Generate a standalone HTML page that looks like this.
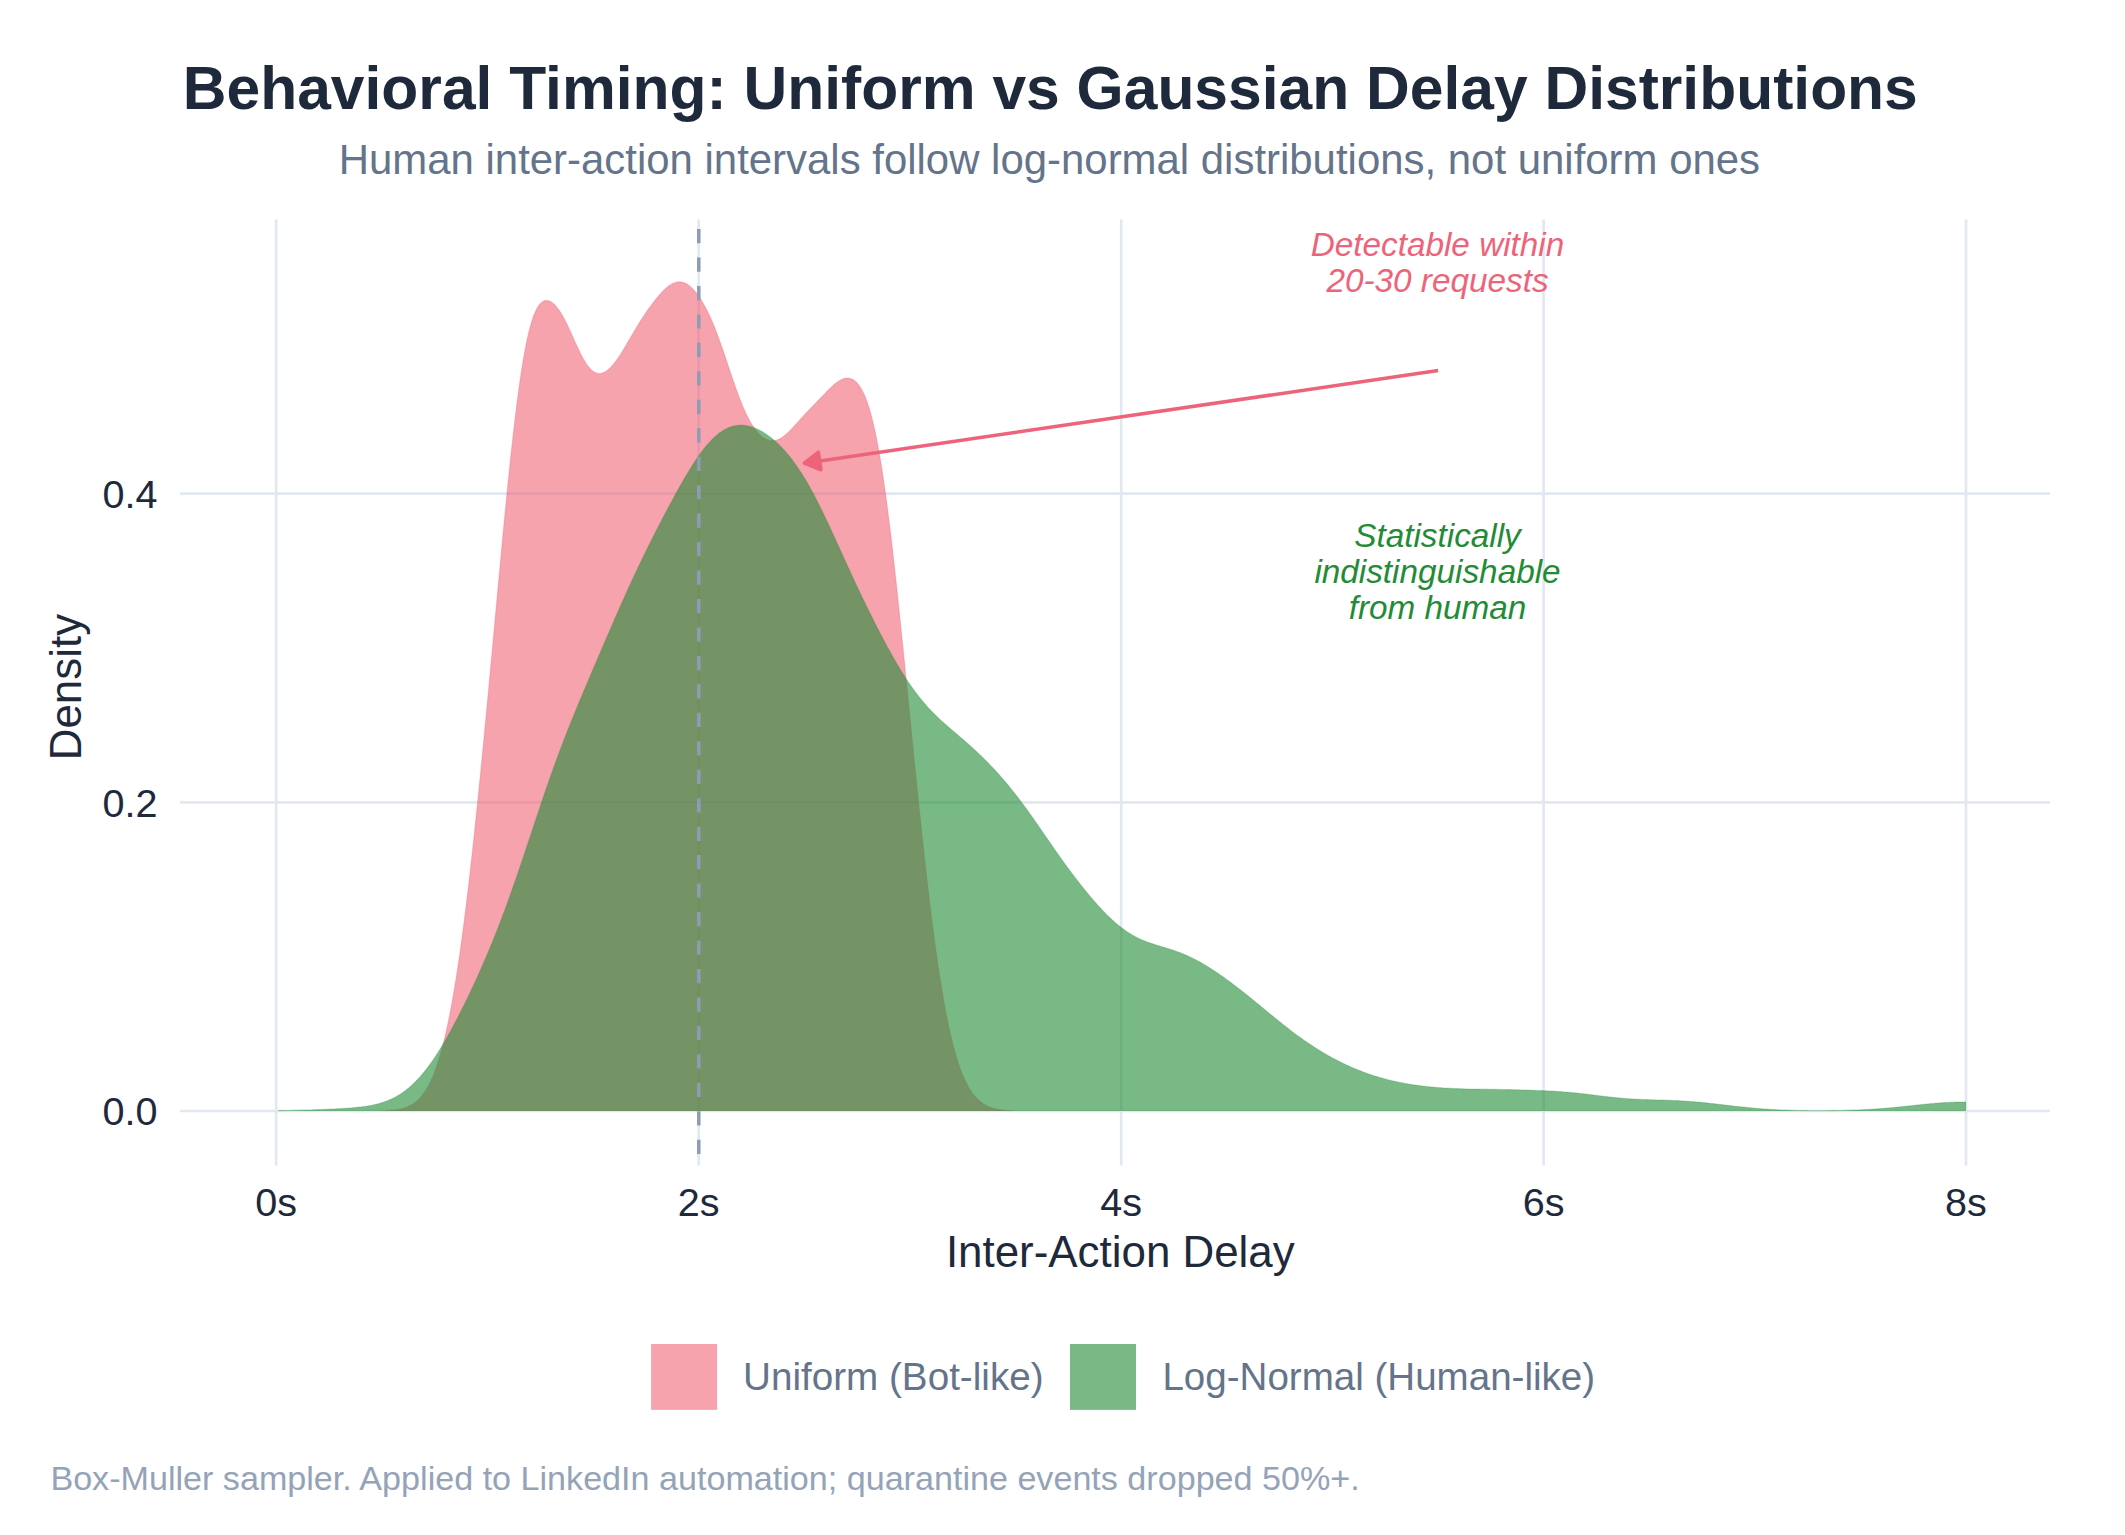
<!DOCTYPE html>
<html lang="en"><head><meta charset="utf-8"><title>Behavioral Timing: Uniform vs Gaussian Delay Distributions</title>
<style>
html,body{margin:0;padding:0;background:#fff;}
body{width:2125px;height:1535px;overflow:hidden;font-family:"Liberation Sans",sans-serif;}
svg{display:block;}
text{font-family:"Liberation Sans",sans-serif;}
</style></head><body>
<svg width="2125" height="1535" viewBox="0 0 2125 1535">
<rect width="2125" height="1535" fill="#ffffff"/>
<text x="1050.3" y="109.3" text-anchor="middle" font-size="60.56" font-weight="bold" fill="#1e293b">Behavioral Timing: Uniform vs Gaussian Delay Distributions</text>
<text x="1049.4" y="173.6" text-anchor="middle" font-size="41.93" fill="#64748b">Human inter-action intervals follow log-normal distributions, not uniform ones</text>
<g stroke="#e2e8f0" stroke-width="2.67" fill="none"><line x1="276.2" y1="219.6" x2="276.2" y2="1165.6"/><line x1="698.7" y1="219.6" x2="698.7" y2="1165.6"/><line x1="1121.2" y1="219.6" x2="1121.2" y2="1165.6"/><line x1="1543.6" y1="219.6" x2="1543.6" y2="1165.6"/><line x1="1966.0" y1="219.6" x2="1966.0" y2="1165.6"/><line x1="180" y1="493.6" x2="2050" y2="493.6"/><line x1="180" y1="802.3" x2="2050" y2="802.3"/><line x1="180" y1="1111.0" x2="2050" y2="1111.0"/></g>
<path d="M330.0 1111.0L330.0 1111.0L331.0 1111.0L332.0 1111.0L333.0 1111.0L334.0 1111.0L335.0 1111.0L336.0 1111.0L337.0 1111.0L338.0 1111.0L339.0 1111.0L340.0 1111.0L341.0 1111.0L342.0 1111.0L343.0 1111.0L344.0 1111.0L345.0 1111.0L346.0 1111.0L347.0 1111.0L348.0 1111.0L349.0 1111.0L350.0 1111.0L351.0 1111.0L352.0 1111.0L353.0 1111.0L354.0 1111.0L355.0 1111.0L356.0 1111.0L357.0 1111.0L358.0 1111.0L359.0 1111.0L360.0 1111.0L361.0 1111.0L362.0 1111.0L363.0 1111.0L364.0 1111.0L365.0 1111.0L366.0 1111.0L367.0 1111.0L368.0 1111.0L369.0 1111.0L370.0 1111.0L371.0 1111.0L372.0 1111.0L373.0 1110.9L374.0 1110.9L375.0 1110.9L376.0 1110.9L377.0 1110.9L378.0 1110.9L379.0 1110.9L380.0 1110.8L381.0 1110.8L382.0 1110.8L383.0 1110.8L384.0 1110.7L385.0 1110.7L386.0 1110.7L387.0 1110.6L388.0 1110.5L389.0 1110.5L390.0 1110.4L391.0 1110.3L392.0 1110.2L393.0 1110.1L394.0 1110.0L395.0 1109.9L396.0 1109.8L397.0 1109.6L398.0 1109.5L399.0 1109.3L400.0 1109.1L401.0 1108.9L402.0 1108.6L403.0 1108.4L404.0 1108.1L405.0 1107.7L406.0 1107.4L407.0 1107.0L408.0 1106.6L409.0 1106.1L410.0 1105.6L411.0 1105.1L412.0 1104.5L413.0 1103.9L414.0 1103.2L415.0 1102.5L416.0 1101.7L417.0 1100.8L418.0 1099.9L419.0 1098.9L420.0 1097.8L421.0 1096.7L422.0 1095.5L423.0 1094.2L424.0 1092.8L425.0 1091.4L426.0 1089.8L427.0 1088.1L428.0 1086.4L429.0 1084.5L430.0 1082.5L431.0 1080.4L432.0 1078.2L433.0 1075.9L434.0 1073.4L435.0 1070.8L436.0 1068.0L437.0 1065.2L438.0 1062.1L439.0 1059.0L440.0 1055.6L441.0 1052.1L442.0 1048.5L443.0 1044.7L444.0 1040.7L445.0 1036.5L446.0 1032.2L447.0 1027.7L448.0 1023.0L449.0 1018.1L450.0 1013.1L451.0 1007.8L452.0 1002.4L453.0 996.8L454.0 990.9L455.0 984.9L456.0 978.7L457.0 972.3L458.0 965.8L459.0 959.0L460.0 952.0L461.0 944.9L462.0 937.6L463.0 930.1L464.0 922.4L465.0 914.5L466.0 906.5L467.0 898.3L468.0 889.9L469.0 881.4L470.0 872.7L471.0 863.9L472.0 854.9L473.0 845.8L474.0 836.5L475.0 827.1L476.0 817.6L477.0 808.0L478.0 798.2L479.0 788.3L480.0 778.4L481.0 768.3L482.0 758.1L483.0 747.9L484.0 737.6L485.0 727.1L486.0 716.7L487.0 706.1L488.0 695.5L489.0 684.8L490.0 674.1L491.0 663.3L492.0 652.5L493.0 641.7L494.0 630.9L495.0 620.0L496.0 609.2L497.0 598.3L498.0 587.5L499.0 576.7L500.0 566.0L501.0 555.3L502.0 544.6L503.0 534.1L504.0 523.6L505.0 513.2L506.0 503.0L507.0 492.9L508.0 482.9L509.0 473.1L510.0 463.5L511.0 454.1L512.0 444.9L513.0 436.0L514.0 427.2L515.0 418.7L516.0 410.5L517.0 402.6L518.0 394.9L519.0 387.5L520.0 380.5L521.0 373.7L522.0 367.3L523.0 361.2L524.0 355.4L525.0 349.9L526.0 344.8L527.0 339.9L528.0 335.4L529.0 331.2L530.0 327.4L531.0 323.8L532.0 320.5L533.0 317.5L534.0 314.8L535.0 312.4L536.0 310.2L537.0 308.3L538.0 306.6L539.0 305.2L540.0 303.9L541.0 302.9L542.0 302.0L543.0 301.4L544.0 300.9L545.0 300.6L546.0 300.4L547.0 300.4L548.0 300.6L549.0 300.8L550.0 301.2L551.0 301.8L552.0 302.4L553.0 303.2L554.0 304.1L555.0 305.1L556.0 306.2L557.0 307.4L558.0 308.7L559.0 310.1L560.0 311.6L561.0 313.1L562.0 314.8L563.0 316.6L564.0 318.4L565.0 320.3L566.0 322.2L567.0 324.3L568.0 326.3L569.0 328.5L570.0 330.6L571.0 332.8L572.0 335.0L573.0 337.2L574.0 339.5L575.0 341.7L576.0 343.9L577.0 346.1L578.0 348.2L579.0 350.3L580.0 352.4L581.0 354.4L582.0 356.3L583.0 358.2L584.0 359.9L585.0 361.6L586.0 363.2L587.0 364.7L588.0 366.0L589.0 367.3L590.0 368.4L591.0 369.5L592.0 370.4L593.0 371.2L594.0 371.8L595.0 372.4L596.0 372.8L597.0 373.2L598.0 373.4L599.0 373.5L600.0 373.4L601.0 373.3L602.0 373.1L603.0 372.8L604.0 372.3L605.0 371.8L606.0 371.2L607.0 370.5L608.0 369.7L609.0 368.8L610.0 367.9L611.0 366.9L612.0 365.8L613.0 364.6L614.0 363.4L615.0 362.1L616.0 360.8L617.0 359.4L618.0 358.0L619.0 356.5L620.0 355.0L621.0 353.4L622.0 351.8L623.0 350.2L624.0 348.6L625.0 346.9L626.0 345.2L627.0 343.5L628.0 341.8L629.0 340.1L630.0 338.4L631.0 336.7L632.0 335.0L633.0 333.3L634.0 331.6L635.0 329.9L636.0 328.2L637.0 326.5L638.0 324.9L639.0 323.3L640.0 321.7L641.0 320.1L642.0 318.5L643.0 317.0L644.0 315.5L645.0 314.0L646.0 312.5L647.0 311.1L648.0 309.6L649.0 308.2L650.0 306.9L651.0 305.5L652.0 304.2L653.0 302.8L654.0 301.5L655.0 300.3L656.0 299.0L657.0 297.8L658.0 296.6L659.0 295.4L660.0 294.3L661.0 293.2L662.0 292.1L663.0 291.1L664.0 290.1L665.0 289.1L666.0 288.2L667.0 287.3L668.0 286.5L669.0 285.7L670.0 285.0L671.0 284.4L672.0 283.8L673.0 283.3L674.0 282.9L675.0 282.5L676.0 282.2L677.0 282.0L678.0 281.9L679.0 281.8L680.0 281.8L681.0 281.9L682.0 282.1L683.0 282.3L684.0 282.7L685.0 283.1L686.0 283.6L687.0 284.1L688.0 284.8L689.0 285.5L690.0 286.3L691.0 287.2L692.0 288.1L693.0 289.1L694.0 290.2L695.0 291.3L696.0 292.5L697.0 293.8L698.0 295.2L699.0 296.6L700.0 298.1L701.0 299.6L702.0 301.2L703.0 302.9L704.0 304.7L705.0 306.5L706.0 308.4L707.0 310.3L708.0 312.3L709.0 314.4L710.0 316.6L711.0 318.8L712.0 321.1L713.0 323.4L714.0 325.8L715.0 328.3L716.0 330.9L717.0 333.5L718.0 336.1L719.0 338.9L720.0 341.6L721.0 344.4L722.0 347.3L723.0 350.2L724.0 353.1L725.0 356.0L726.0 359.0L727.0 362.0L728.0 365.0L729.0 368.0L730.0 371.0L731.0 374.0L732.0 376.9L733.0 379.9L734.0 382.8L735.0 385.6L736.0 388.5L737.0 391.3L738.0 394.0L739.0 396.7L740.0 399.3L741.0 401.8L742.0 404.3L743.0 406.7L744.0 409.0L745.0 411.2L746.0 413.4L747.0 415.5L748.0 417.4L749.0 419.4L750.0 421.2L751.0 422.9L752.0 424.6L753.0 426.1L754.0 427.6L755.0 429.0L756.0 430.3L757.0 431.5L758.0 432.7L759.0 433.8L760.0 434.8L761.0 435.7L762.0 436.5L763.0 437.3L764.0 437.9L765.0 438.5L766.0 439.1L767.0 439.5L768.0 439.9L769.0 440.2L770.0 440.4L771.0 440.5L772.0 440.6L773.0 440.6L774.0 440.5L775.0 440.4L776.0 440.1L777.0 439.9L778.0 439.5L779.0 439.1L780.0 438.6L781.0 438.0L782.0 437.4L783.0 436.7L784.0 436.0L785.0 435.2L786.0 434.3L787.0 433.4L788.0 432.5L789.0 431.6L790.0 430.6L791.0 429.5L792.0 428.5L793.0 427.4L794.0 426.3L795.0 425.2L796.0 424.1L797.0 423.0L798.0 421.9L799.0 420.8L800.0 419.7L801.0 418.6L802.0 417.5L803.0 416.4L804.0 415.3L805.0 414.2L806.0 413.1L807.0 412.1L808.0 411.0L809.0 409.9L810.0 408.9L811.0 407.9L812.0 406.8L813.0 405.8L814.0 404.8L815.0 403.7L816.0 402.7L817.0 401.7L818.0 400.6L819.0 399.6L820.0 398.6L821.0 397.5L822.0 396.5L823.0 395.4L824.0 394.4L825.0 393.4L826.0 392.3L827.0 391.3L828.0 390.3L829.0 389.3L830.0 388.3L831.0 387.4L832.0 386.4L833.0 385.5L834.0 384.6L835.0 383.8L836.0 383.0L837.0 382.2L838.0 381.5L839.0 380.9L840.0 380.3L841.0 379.8L842.0 379.3L843.0 378.9L844.0 378.6L845.0 378.3L846.0 378.2L847.0 378.1L848.0 378.1L849.0 378.2L850.0 378.4L851.0 378.7L852.0 379.1L853.0 379.6L854.0 380.2L855.0 380.9L856.0 381.8L857.0 382.8L858.0 383.9L859.0 385.2L860.0 386.7L861.0 388.2L862.0 390.0L863.0 391.9L864.0 394.0L865.0 396.3L866.0 398.8L867.0 401.5L868.0 404.4L869.0 407.5L870.0 410.8L871.0 414.4L872.0 418.2L873.0 422.2L874.0 426.5L875.0 431.0L876.0 435.7L877.0 440.8L878.0 446.0L879.0 451.6L880.0 457.3L881.0 463.4L882.0 469.6L883.0 476.2L884.0 482.9L885.0 489.9L886.0 497.2L887.0 504.6L888.0 512.3L889.0 520.2L890.0 528.3L891.0 536.6L892.0 545.0L893.0 553.7L894.0 562.5L895.0 571.5L896.0 580.6L897.0 589.8L898.0 599.2L899.0 608.7L900.0 618.2L901.0 627.9L902.0 637.7L903.0 647.5L904.0 657.4L905.0 667.3L906.0 677.3L907.0 687.3L908.0 697.3L909.0 707.3L910.0 717.4L911.0 727.4L912.0 737.4L913.0 747.4L914.0 757.3L915.0 767.2L916.0 777.1L917.0 786.9L918.0 796.6L919.0 806.2L920.0 815.8L921.0 825.2L922.0 834.6L923.0 843.8L924.0 852.9L925.0 861.9L926.0 870.8L927.0 879.5L928.0 888.1L929.0 896.6L930.0 904.9L931.0 913.0L932.0 920.9L933.0 928.7L934.0 936.3L935.0 943.7L936.0 951.0L937.0 958.0L938.0 964.9L939.0 971.5L940.0 978.0L941.0 984.3L942.0 990.4L943.0 996.2L944.0 1001.9L945.0 1007.4L946.0 1012.7L947.0 1017.8L948.0 1022.7L949.0 1027.5L950.0 1032.0L951.0 1036.4L952.0 1040.5L953.0 1044.5L954.0 1048.4L955.0 1052.0L956.0 1055.5L957.0 1058.8L958.0 1062.0L959.0 1065.0L960.0 1067.9L961.0 1070.6L962.0 1073.2L963.0 1075.7L964.0 1078.0L965.0 1080.2L966.0 1082.3L967.0 1084.3L968.0 1086.1L969.0 1087.9L970.0 1089.5L971.0 1091.1L972.0 1092.5L973.0 1093.9L974.0 1095.2L975.0 1096.4L976.0 1097.5L977.0 1098.6L978.0 1099.5L979.0 1100.5L980.0 1101.3L981.0 1102.1L982.0 1102.9L983.0 1103.5L984.0 1104.2L985.0 1104.8L986.0 1105.3L987.0 1105.8L988.0 1106.3L989.0 1106.7L990.0 1107.1L991.0 1107.5L992.0 1107.8L993.0 1108.1L994.0 1108.4L995.0 1108.7L996.0 1108.9L997.0 1109.1L998.0 1109.3L999.0 1109.5L1000.0 1109.6L1001.0 1109.8L1002.0 1109.9L1003.0 1110.0L1004.0 1110.1L1005.0 1110.2L1006.0 1110.3L1007.0 1110.4L1008.0 1110.5L1009.0 1110.5L1010.0 1110.6L1011.0 1110.6L1012.0 1110.7L1013.0 1110.7L1014.0 1110.8L1015.0 1110.8L1016.0 1110.8L1017.0 1110.8L1018.0 1110.9L1019.0 1110.9L1020.0 1110.9L1021.0 1110.9L1022.0 1110.9L1023.0 1110.9L1024.0 1110.9L1025.0 1110.9L1026.0 1111.0L1027.0 1111.0L1028.0 1111.0L1029.0 1111.0L1030.0 1111.0L1031.0 1111.0L1032.0 1111.0L1033.0 1111.0L1034.0 1111.0L1035.0 1111.0L1036.0 1111.0L1037.0 1111.0L1038.0 1111.0L1039.0 1111.0L1040.0 1111.0L1041.0 1111.0L1042.0 1111.0L1043.0 1111.0L1044.0 1111.0L1045.0 1111.0L1046.0 1111.0L1047.0 1111.0L1048.0 1111.0L1049.0 1111.0L1050.0 1111.0L1051.0 1111.0L1052.0 1111.0L1053.0 1111.0L1054.0 1111.0L1055.0 1111.0L1056.0 1111.0L1057.0 1111.0L1058.0 1111.0L1059.0 1111.0L1060.0 1111.0L1061.0 1111.0L1062.0 1111.0L1063.0 1111.0L1064.0 1111.0L1065.0 1111.0L1066.0 1111.0L1067.0 1111.0L1068.0 1111.0L1069.0 1111.0L1070.0 1111.0L1070.0 1111.0 Z" fill="#ee475e" fill-opacity="0.5"/><path d="M385.0 1110.7L386.0 1110.7L387.0 1110.6L388.0 1110.5L389.0 1110.5L390.0 1110.4L391.0 1110.3L392.0 1110.2L393.0 1110.1L394.0 1110.0L395.0 1109.9L396.0 1109.8L397.0 1109.6L398.0 1109.5L399.0 1109.3L400.0 1109.1L401.0 1108.9L402.0 1108.6L403.0 1108.4L404.0 1108.1L405.0 1107.7L406.0 1107.4L407.0 1107.0L408.0 1106.6L409.0 1106.1L410.0 1105.6L411.0 1105.1L412.0 1104.5L413.0 1103.9L414.0 1103.2L415.0 1102.5L416.0 1101.7L417.0 1100.8L418.0 1099.9L419.0 1098.9L420.0 1097.8L421.0 1096.7L422.0 1095.5L423.0 1094.2L424.0 1092.8L425.0 1091.4L426.0 1089.8L427.0 1088.1L428.0 1086.4L429.0 1084.5L430.0 1082.5L431.0 1080.4L432.0 1078.2L433.0 1075.9L434.0 1073.4L435.0 1070.8L436.0 1068.0L437.0 1065.2L438.0 1062.1L439.0 1059.0L440.0 1055.6L441.0 1052.1L442.0 1048.5L443.0 1044.7L444.0 1040.7L445.0 1036.5L446.0 1032.2L447.0 1027.7L448.0 1023.0L449.0 1018.1L450.0 1013.1L451.0 1007.8L452.0 1002.4L453.0 996.8L454.0 990.9L455.0 984.9L456.0 978.7L457.0 972.3L458.0 965.8L459.0 959.0L460.0 952.0L461.0 944.9L462.0 937.6L463.0 930.1L464.0 922.4L465.0 914.5L466.0 906.5L467.0 898.3L468.0 889.9L469.0 881.4L470.0 872.7L471.0 863.9L472.0 854.9L473.0 845.8L474.0 836.5L475.0 827.1L476.0 817.6L477.0 808.0L478.0 798.2L479.0 788.3L480.0 778.4L481.0 768.3L482.0 758.1L483.0 747.9L484.0 737.6L485.0 727.1L486.0 716.7L487.0 706.1L488.0 695.5L489.0 684.8L490.0 674.1L491.0 663.3L492.0 652.5L493.0 641.7L494.0 630.9L495.0 620.0L496.0 609.2L497.0 598.3L498.0 587.5L499.0 576.7L500.0 566.0L501.0 555.3L502.0 544.6L503.0 534.1L504.0 523.6L505.0 513.2L506.0 503.0L507.0 492.9L508.0 482.9L509.0 473.1L510.0 463.5L511.0 454.1L512.0 444.9L513.0 436.0L514.0 427.2L515.0 418.7L516.0 410.5L517.0 402.6L518.0 394.9L519.0 387.5L520.0 380.5L521.0 373.7L522.0 367.3L523.0 361.2L524.0 355.4L525.0 349.9L526.0 344.8L527.0 339.9L528.0 335.4L529.0 331.2L530.0 327.4L531.0 323.8L532.0 320.5L533.0 317.5L534.0 314.8L535.0 312.4L536.0 310.2L537.0 308.3L538.0 306.6L539.0 305.2L540.0 303.9L541.0 302.9L542.0 302.0L543.0 301.4L544.0 300.9L545.0 300.6L546.0 300.4L547.0 300.4L548.0 300.6L549.0 300.8L550.0 301.2L551.0 301.8L552.0 302.4L553.0 303.2L554.0 304.1L555.0 305.1L556.0 306.2L557.0 307.4L558.0 308.7L559.0 310.1L560.0 311.6L561.0 313.1L562.0 314.8L563.0 316.6L564.0 318.4L565.0 320.3L566.0 322.2L567.0 324.3L568.0 326.3L569.0 328.5L570.0 330.6L571.0 332.8L572.0 335.0L573.0 337.2L574.0 339.5L575.0 341.7L576.0 343.9L577.0 346.1L578.0 348.2L579.0 350.3L580.0 352.4L581.0 354.4L582.0 356.3L583.0 358.2L584.0 359.9L585.0 361.6L586.0 363.2L587.0 364.7L588.0 366.0L589.0 367.3L590.0 368.4L591.0 369.5L592.0 370.4L593.0 371.2L594.0 371.8L595.0 372.4L596.0 372.8L597.0 373.2L598.0 373.4L599.0 373.5L600.0 373.4L601.0 373.3L602.0 373.1L603.0 372.8L604.0 372.3L605.0 371.8L606.0 371.2L607.0 370.5L608.0 369.7L609.0 368.8L610.0 367.9L611.0 366.9L612.0 365.8L613.0 364.6L614.0 363.4L615.0 362.1L616.0 360.8L617.0 359.4L618.0 358.0L619.0 356.5L620.0 355.0L621.0 353.4L622.0 351.8L623.0 350.2L624.0 348.6L625.0 346.9L626.0 345.2L627.0 343.5L628.0 341.8L629.0 340.1L630.0 338.4L631.0 336.7L632.0 335.0L633.0 333.3L634.0 331.6L635.0 329.9L636.0 328.2L637.0 326.5L638.0 324.9L639.0 323.3L640.0 321.7L641.0 320.1L642.0 318.5L643.0 317.0L644.0 315.5L645.0 314.0L646.0 312.5L647.0 311.1L648.0 309.6L649.0 308.2L650.0 306.9L651.0 305.5L652.0 304.2L653.0 302.8L654.0 301.5L655.0 300.3L656.0 299.0L657.0 297.8L658.0 296.6L659.0 295.4L660.0 294.3L661.0 293.2L662.0 292.1L663.0 291.1L664.0 290.1L665.0 289.1L666.0 288.2L667.0 287.3L668.0 286.5L669.0 285.7L670.0 285.0L671.0 284.4L672.0 283.8L673.0 283.3L674.0 282.9L675.0 282.5L676.0 282.2L677.0 282.0L678.0 281.9L679.0 281.8L680.0 281.8L681.0 281.9L682.0 282.1L683.0 282.3L684.0 282.7L685.0 283.1L686.0 283.6L687.0 284.1L688.0 284.8L689.0 285.5L690.0 286.3L691.0 287.2L692.0 288.1L693.0 289.1L694.0 290.2L695.0 291.3L696.0 292.5L697.0 293.8L698.0 295.2L699.0 296.6L700.0 298.1L701.0 299.6L702.0 301.2L703.0 302.9L704.0 304.7L705.0 306.5L706.0 308.4L707.0 310.3L708.0 312.3L709.0 314.4L710.0 316.6L711.0 318.8L712.0 321.1L713.0 323.4L714.0 325.8L715.0 328.3L716.0 330.9L717.0 333.5L718.0 336.1L719.0 338.9L720.0 341.6L721.0 344.4L722.0 347.3L723.0 350.2L724.0 353.1L725.0 356.0L726.0 359.0L727.0 362.0L728.0 365.0L729.0 368.0L730.0 371.0L731.0 374.0L732.0 376.9L733.0 379.9L734.0 382.8L735.0 385.6L736.0 388.5L737.0 391.3L738.0 394.0L739.0 396.7L740.0 399.3L741.0 401.8L742.0 404.3L743.0 406.7L744.0 409.0L745.0 411.2L746.0 413.4L747.0 415.5L748.0 417.4L749.0 419.4L750.0 421.2L751.0 422.9L752.0 424.6L753.0 426.1L754.0 427.6L755.0 429.0L756.0 430.3L757.0 431.5L758.0 432.7L759.0 433.8L760.0 434.8L761.0 435.7L762.0 436.5L763.0 437.3L764.0 437.9L765.0 438.5L766.0 439.1L767.0 439.5L768.0 439.9L769.0 440.2L770.0 440.4L771.0 440.5L772.0 440.6L773.0 440.6L774.0 440.5L775.0 440.4L776.0 440.1L777.0 439.9L778.0 439.5L779.0 439.1L780.0 438.6L781.0 438.0L782.0 437.4L783.0 436.7L784.0 436.0L785.0 435.2L786.0 434.3L787.0 433.4L788.0 432.5L789.0 431.6L790.0 430.6L791.0 429.5L792.0 428.5L793.0 427.4L794.0 426.3L795.0 425.2L796.0 424.1L797.0 423.0L798.0 421.9L799.0 420.8L800.0 419.7L801.0 418.6L802.0 417.5L803.0 416.4L804.0 415.3L805.0 414.2L806.0 413.1L807.0 412.1L808.0 411.0L809.0 409.9L810.0 408.9L811.0 407.9L812.0 406.8L813.0 405.8L814.0 404.8L815.0 403.7L816.0 402.7L817.0 401.7L818.0 400.6L819.0 399.6L820.0 398.6L821.0 397.5L822.0 396.5L823.0 395.4L824.0 394.4L825.0 393.4L826.0 392.3L827.0 391.3L828.0 390.3L829.0 389.3L830.0 388.3L831.0 387.4L832.0 386.4L833.0 385.5L834.0 384.6L835.0 383.8L836.0 383.0L837.0 382.2L838.0 381.5L839.0 380.9L840.0 380.3L841.0 379.8L842.0 379.3L843.0 378.9L844.0 378.6L845.0 378.3L846.0 378.2L847.0 378.1L848.0 378.1L849.0 378.2L850.0 378.4L851.0 378.7L852.0 379.1L853.0 379.6L854.0 380.2L855.0 380.9L856.0 381.8L857.0 382.8L858.0 383.9L859.0 385.2L860.0 386.7L861.0 388.2L862.0 390.0L863.0 391.9L864.0 394.0L865.0 396.3L866.0 398.8L867.0 401.5L868.0 404.4L869.0 407.5L870.0 410.8L871.0 414.4L872.0 418.2L873.0 422.2L874.0 426.5L875.0 431.0L876.0 435.7L877.0 440.8L878.0 446.0L879.0 451.6L880.0 457.3L881.0 463.4L882.0 469.6L883.0 476.2L884.0 482.9L885.0 489.9L886.0 497.2L887.0 504.6L888.0 512.3L889.0 520.2L890.0 528.3L891.0 536.6L892.0 545.0L893.0 553.7L894.0 562.5L895.0 571.5L896.0 580.6L897.0 589.8L898.0 599.2L899.0 608.7L900.0 618.2L901.0 627.9L902.0 637.7L903.0 647.5L904.0 657.4L905.0 667.3L906.0 677.3L907.0 687.3L908.0 697.3L909.0 707.3L910.0 717.4L911.0 727.4L912.0 737.4L913.0 747.4L914.0 757.3L915.0 767.2L916.0 777.1L917.0 786.9L918.0 796.6L919.0 806.2L920.0 815.8L921.0 825.2L922.0 834.6L923.0 843.8L924.0 852.9L925.0 861.9L926.0 870.8L927.0 879.5L928.0 888.1L929.0 896.6L930.0 904.9L931.0 913.0L932.0 920.9L933.0 928.7L934.0 936.3L935.0 943.7L936.0 951.0L937.0 958.0L938.0 964.9L939.0 971.5L940.0 978.0L941.0 984.3L942.0 990.4L943.0 996.2L944.0 1001.9L945.0 1007.4L946.0 1012.7L947.0 1017.8L948.0 1022.7L949.0 1027.5L950.0 1032.0L951.0 1036.4L952.0 1040.5L953.0 1044.5L954.0 1048.4L955.0 1052.0L956.0 1055.5L957.0 1058.8L958.0 1062.0L959.0 1065.0L960.0 1067.9L961.0 1070.6L962.0 1073.2L963.0 1075.7L964.0 1078.0L965.0 1080.2L966.0 1082.3L967.0 1084.3L968.0 1086.1L969.0 1087.9L970.0 1089.5L971.0 1091.1L972.0 1092.5L973.0 1093.9L974.0 1095.2L975.0 1096.4L976.0 1097.5L977.0 1098.6L978.0 1099.5L979.0 1100.5L980.0 1101.3L981.0 1102.1L982.0 1102.9L983.0 1103.5L984.0 1104.2L985.0 1104.8L986.0 1105.3L987.0 1105.8L988.0 1106.3L989.0 1106.7L990.0 1107.1L991.0 1107.5L992.0 1107.8L993.0 1108.1L994.0 1108.4L995.0 1108.7L996.0 1108.9L997.0 1109.1L998.0 1109.3L999.0 1109.5L1000.0 1109.6L1001.0 1109.8L1002.0 1109.9L1003.0 1110.0L1004.0 1110.1L1005.0 1110.2L1006.0 1110.3L1007.0 1110.4L1008.0 1110.5L1009.0 1110.5L1010.0 1110.6L1011.0 1110.6L1012.0 1110.7" fill="none" stroke="#ee475e" stroke-opacity="0.22" stroke-width="1.2"/>
<path d="M278.0 1111.0L278.0 1110.7L279.0 1110.7L280.0 1110.6L281.0 1110.6L282.0 1110.6L283.0 1110.6L284.0 1110.6L285.0 1110.6L286.0 1110.5L287.0 1110.5L288.0 1110.5L289.0 1110.5L290.0 1110.5L291.0 1110.4L292.0 1110.4L293.0 1110.4L294.0 1110.4L295.0 1110.3L296.0 1110.3L297.0 1110.3L298.0 1110.3L299.0 1110.2L300.0 1110.2L301.0 1110.2L302.0 1110.2L303.0 1110.1L304.0 1110.1L305.0 1110.1L306.0 1110.0L307.0 1110.0L308.0 1110.0L309.0 1110.0L310.0 1109.9L311.0 1109.9L312.0 1109.9L313.0 1109.8L314.0 1109.8L315.0 1109.7L316.0 1109.7L317.0 1109.7L318.0 1109.6L319.0 1109.6L320.0 1109.6L321.0 1109.5L322.0 1109.5L323.0 1109.4L324.0 1109.4L325.0 1109.4L326.0 1109.3L327.0 1109.3L328.0 1109.2L329.0 1109.2L330.0 1109.1L331.0 1109.1L332.0 1109.0L333.0 1109.0L334.0 1108.9L335.0 1108.9L336.0 1108.8L337.0 1108.8L338.0 1108.7L339.0 1108.7L340.0 1108.6L341.0 1108.6L342.0 1108.5L343.0 1108.4L344.0 1108.4L345.0 1108.3L346.0 1108.3L347.0 1108.2L348.0 1108.1L349.0 1108.0L350.0 1108.0L351.0 1107.9L352.0 1107.8L353.0 1107.7L354.0 1107.6L355.0 1107.5L356.0 1107.4L357.0 1107.3L358.0 1107.2L359.0 1107.1L360.0 1107.0L361.0 1106.9L362.0 1106.8L363.0 1106.6L364.0 1106.5L365.0 1106.4L366.0 1106.2L367.0 1106.1L368.0 1105.9L369.0 1105.7L370.0 1105.5L371.0 1105.4L372.0 1105.2L373.0 1105.0L374.0 1104.7L375.0 1104.5L376.0 1104.3L377.0 1104.0L378.0 1103.8L379.0 1103.5L380.0 1103.2L381.0 1102.9L382.0 1102.6L383.0 1102.3L384.0 1102.0L385.0 1101.6L386.0 1101.3L387.0 1100.9L388.0 1100.5L389.0 1100.1L390.0 1099.6L391.0 1099.2L392.0 1098.7L393.0 1098.2L394.0 1097.7L395.0 1097.2L396.0 1096.7L397.0 1096.1L398.0 1095.5L399.0 1094.9L400.0 1094.3L401.0 1093.7L402.0 1093.0L403.0 1092.3L404.0 1091.6L405.0 1090.9L406.0 1090.1L407.0 1089.3L408.0 1088.5L409.0 1087.7L410.0 1086.8L411.0 1085.9L412.0 1085.0L413.0 1084.1L414.0 1083.1L415.0 1082.1L416.0 1081.1L417.0 1080.1L418.0 1079.0L419.0 1077.9L420.0 1076.8L421.0 1075.7L422.0 1074.5L423.0 1073.3L424.0 1072.1L425.0 1070.8L426.0 1069.6L427.0 1068.3L428.0 1067.0L429.0 1065.6L430.0 1064.2L431.0 1062.8L432.0 1061.4L433.0 1060.0L434.0 1058.5L435.0 1057.0L436.0 1055.5L437.0 1053.9L438.0 1052.4L439.0 1050.8L440.0 1049.2L441.0 1047.6L442.0 1045.9L443.0 1044.2L444.0 1042.5L445.0 1040.8L446.0 1039.1L447.0 1037.4L448.0 1035.6L449.0 1033.8L450.0 1032.0L451.0 1030.2L452.0 1028.3L453.0 1026.5L454.0 1024.6L455.0 1022.7L456.0 1020.8L457.0 1018.9L458.0 1017.0L459.0 1015.1L460.0 1013.1L461.0 1011.1L462.0 1009.1L463.0 1007.1L464.0 1005.1L465.0 1003.1L466.0 1001.0L467.0 999.0L468.0 996.9L469.0 994.8L470.0 992.7L471.0 990.6L472.0 988.5L473.0 986.4L474.0 984.2L475.0 982.1L476.0 979.9L477.0 977.7L478.0 975.5L479.0 973.3L480.0 971.0L481.0 968.8L482.0 966.5L483.0 964.2L484.0 961.9L485.0 959.6L486.0 957.3L487.0 954.9L488.0 952.6L489.0 950.2L490.0 947.8L491.0 945.3L492.0 942.9L493.0 940.4L494.0 938.0L495.0 935.5L496.0 932.9L497.0 930.4L498.0 927.8L499.0 925.3L500.0 922.7L501.0 920.1L502.0 917.4L503.0 914.8L504.0 912.1L505.0 909.4L506.0 906.7L507.0 903.9L508.0 901.2L509.0 898.4L510.0 895.6L511.0 892.8L512.0 890.0L513.0 887.1L514.0 884.3L515.0 881.4L516.0 878.5L517.0 875.6L518.0 872.7L519.0 869.7L520.0 866.8L521.0 863.8L522.0 860.9L523.0 857.9L524.0 854.9L525.0 851.9L526.0 848.9L527.0 845.9L528.0 842.9L529.0 839.9L530.0 836.9L531.0 833.9L532.0 830.9L533.0 827.9L534.0 824.9L535.0 821.9L536.0 818.9L537.0 815.9L538.0 812.9L539.0 809.9L540.0 806.9L541.0 804.0L542.0 801.0L543.0 798.1L544.0 795.1L545.0 792.2L546.0 789.3L547.0 786.4L548.0 783.5L549.0 780.7L550.0 777.8L551.0 775.0L552.0 772.2L553.0 769.4L554.0 766.6L555.0 763.9L556.0 761.1L557.0 758.4L558.0 755.7L559.0 753.0L560.0 750.3L561.0 747.7L562.0 745.1L563.0 742.4L564.0 739.8L565.0 737.3L566.0 734.7L567.0 732.1L568.0 729.6L569.0 727.1L570.0 724.6L571.0 722.1L572.0 719.6L573.0 717.1L574.0 714.7L575.0 712.2L576.0 709.8L577.0 707.4L578.0 704.9L579.0 702.5L580.0 700.1L581.0 697.7L582.0 695.4L583.0 693.0L584.0 690.6L585.0 688.2L586.0 685.9L587.0 683.5L588.0 681.2L589.0 678.8L590.0 676.5L591.0 674.1L592.0 671.8L593.0 669.4L594.0 667.1L595.0 664.8L596.0 662.4L597.0 660.1L598.0 657.7L599.0 655.4L600.0 653.1L601.0 650.8L602.0 648.4L603.0 646.1L604.0 643.8L605.0 641.4L606.0 639.1L607.0 636.8L608.0 634.5L609.0 632.2L610.0 629.9L611.0 627.5L612.0 625.2L613.0 622.9L614.0 620.6L615.0 618.3L616.0 616.1L617.0 613.8L618.0 611.5L619.0 609.2L620.0 607.0L621.0 604.7L622.0 602.5L623.0 600.2L624.0 598.0L625.0 595.8L626.0 593.5L627.0 591.3L628.0 589.1L629.0 586.9L630.0 584.8L631.0 582.6L632.0 580.4L633.0 578.3L634.0 576.1L635.0 574.0L636.0 571.9L637.0 569.7L638.0 567.6L639.0 565.5L640.0 563.5L641.0 561.4L642.0 559.3L643.0 557.2L644.0 555.2L645.0 553.2L646.0 551.1L647.0 549.1L648.0 547.1L649.0 545.1L650.0 543.1L651.0 541.1L652.0 539.1L653.0 537.1L654.0 535.1L655.0 533.1L656.0 531.2L657.0 529.2L658.0 527.3L659.0 525.3L660.0 523.4L661.0 521.5L662.0 519.5L663.0 517.6L664.0 515.7L665.0 513.8L666.0 511.9L667.0 510.0L668.0 508.1L669.0 506.3L670.0 504.4L671.0 502.5L672.0 500.7L673.0 498.8L674.0 497.0L675.0 495.1L676.0 493.3L677.0 491.5L678.0 489.7L679.0 487.9L680.0 486.1L681.0 484.4L682.0 482.6L683.0 480.9L684.0 479.1L685.0 477.4L686.0 475.7L687.0 474.0L688.0 472.4L689.0 470.7L690.0 469.1L691.0 467.5L692.0 465.9L693.0 464.3L694.0 462.8L695.0 461.3L696.0 459.8L697.0 458.3L698.0 456.9L699.0 455.4L700.0 454.0L701.0 452.7L702.0 451.3L703.0 450.0L704.0 448.7L705.0 447.5L706.0 446.2L707.0 445.0L708.0 443.9L709.0 442.8L710.0 441.7L711.0 440.6L712.0 439.6L713.0 438.6L714.0 437.6L715.0 436.7L716.0 435.8L717.0 434.9L718.0 434.1L719.0 433.3L720.0 432.6L721.0 431.9L722.0 431.2L723.0 430.6L724.0 430.0L725.0 429.4L726.0 428.9L727.0 428.4L728.0 427.9L729.0 427.5L730.0 427.1L731.0 426.7L732.0 426.4L733.0 426.1L734.0 425.9L735.0 425.7L736.0 425.5L737.0 425.4L738.0 425.3L739.0 425.2L740.0 425.1L741.0 425.1L742.0 425.1L743.0 425.2L744.0 425.3L745.0 425.4L746.0 425.5L747.0 425.7L748.0 425.9L749.0 426.1L750.0 426.4L751.0 426.7L752.0 427.0L753.0 427.3L754.0 427.7L755.0 428.1L756.0 428.5L757.0 428.9L758.0 429.4L759.0 429.9L760.0 430.4L761.0 431.0L762.0 431.5L763.0 432.1L764.0 432.7L765.0 433.4L766.0 434.0L767.0 434.7L768.0 435.4L769.0 436.2L770.0 436.9L771.0 437.7L772.0 438.5L773.0 439.3L774.0 440.2L775.0 441.0L776.0 441.9L777.0 442.8L778.0 443.8L779.0 444.8L780.0 445.7L781.0 446.8L782.0 447.8L783.0 448.9L784.0 450.0L785.0 451.1L786.0 452.2L787.0 453.4L788.0 454.6L789.0 455.8L790.0 457.0L791.0 458.3L792.0 459.6L793.0 460.9L794.0 462.3L795.0 463.7L796.0 465.1L797.0 466.5L798.0 468.0L799.0 469.4L800.0 471.0L801.0 472.5L802.0 474.1L803.0 475.7L804.0 477.3L805.0 478.9L806.0 480.6L807.0 482.3L808.0 484.1L809.0 485.8L810.0 487.6L811.0 489.4L812.0 491.2L813.0 493.1L814.0 495.0L815.0 496.9L816.0 498.8L817.0 500.7L818.0 502.7L819.0 504.7L820.0 506.7L821.0 508.7L822.0 510.7L823.0 512.8L824.0 514.9L825.0 516.9L826.0 519.0L827.0 521.2L828.0 523.3L829.0 525.4L830.0 527.6L831.0 529.7L832.0 531.9L833.0 534.0L834.0 536.2L835.0 538.4L836.0 540.6L837.0 542.8L838.0 545.0L839.0 547.2L840.0 549.4L841.0 551.6L842.0 553.8L843.0 556.0L844.0 558.2L845.0 560.4L846.0 562.6L847.0 564.8L848.0 566.9L849.0 569.1L850.0 571.3L851.0 573.5L852.0 575.6L853.0 577.8L854.0 579.9L855.0 582.1L856.0 584.2L857.0 586.4L858.0 588.5L859.0 590.6L860.0 592.7L861.0 594.8L862.0 596.9L863.0 599.0L864.0 601.1L865.0 603.1L866.0 605.2L867.0 607.2L868.0 609.3L869.0 611.3L870.0 613.3L871.0 615.3L872.0 617.3L873.0 619.3L874.0 621.3L875.0 623.3L876.0 625.2L877.0 627.2L878.0 629.1L879.0 631.1L880.0 633.0L881.0 634.9L882.0 636.8L883.0 638.7L884.0 640.6L885.0 642.5L886.0 644.3L887.0 646.2L888.0 648.0L889.0 649.8L890.0 651.6L891.0 653.4L892.0 655.2L893.0 657.0L894.0 658.7L895.0 660.5L896.0 662.2L897.0 663.9L898.0 665.6L899.0 667.2L900.0 668.9L901.0 670.5L902.0 672.2L903.0 673.8L904.0 675.3L905.0 676.9L906.0 678.5L907.0 680.0L908.0 681.5L909.0 683.0L910.0 684.4L911.0 685.9L912.0 687.3L913.0 688.7L914.0 690.1L915.0 691.5L916.0 692.8L917.0 694.1L918.0 695.4L919.0 696.7L920.0 698.0L921.0 699.2L922.0 700.4L923.0 701.6L924.0 702.8L925.0 704.0L926.0 705.1L927.0 706.3L928.0 707.4L929.0 708.5L930.0 709.5L931.0 710.6L932.0 711.6L933.0 712.6L934.0 713.7L935.0 714.6L936.0 715.6L937.0 716.6L938.0 717.6L939.0 718.5L940.0 719.4L941.0 720.4L942.0 721.3L943.0 722.2L944.0 723.1L945.0 724.0L946.0 724.8L947.0 725.7L948.0 726.6L949.0 727.5L950.0 728.3L951.0 729.2L952.0 730.0L953.0 730.9L954.0 731.8L955.0 732.6L956.0 733.5L957.0 734.3L958.0 735.2L959.0 736.0L960.0 736.9L961.0 737.7L962.0 738.6L963.0 739.5L964.0 740.3L965.0 741.2L966.0 742.1L967.0 743.0L968.0 743.8L969.0 744.7L970.0 745.6L971.0 746.5L972.0 747.4L973.0 748.3L974.0 749.2L975.0 750.2L976.0 751.1L977.0 752.0L978.0 753.0L979.0 753.9L980.0 754.9L981.0 755.8L982.0 756.8L983.0 757.8L984.0 758.8L985.0 759.8L986.0 760.8L987.0 761.8L988.0 762.8L989.0 763.8L990.0 764.9L991.0 765.9L992.0 766.9L993.0 768.0L994.0 769.1L995.0 770.1L996.0 771.2L997.0 772.3L998.0 773.4L999.0 774.5L1000.0 775.7L1001.0 776.8L1002.0 777.9L1003.0 779.1L1004.0 780.3L1005.0 781.4L1006.0 782.6L1007.0 783.8L1008.0 785.0L1009.0 786.2L1010.0 787.4L1011.0 788.7L1012.0 789.9L1013.0 791.2L1014.0 792.4L1015.0 793.7L1016.0 795.0L1017.0 796.3L1018.0 797.6L1019.0 798.9L1020.0 800.2L1021.0 801.5L1022.0 802.9L1023.0 804.2L1024.0 805.6L1025.0 806.9L1026.0 808.3L1027.0 809.7L1028.0 811.1L1029.0 812.5L1030.0 813.9L1031.0 815.3L1032.0 816.7L1033.0 818.1L1034.0 819.5L1035.0 821.0L1036.0 822.4L1037.0 823.8L1038.0 825.3L1039.0 826.7L1040.0 828.2L1041.0 829.6L1042.0 831.1L1043.0 832.5L1044.0 834.0L1045.0 835.4L1046.0 836.9L1047.0 838.3L1048.0 839.8L1049.0 841.2L1050.0 842.7L1051.0 844.1L1052.0 845.6L1053.0 847.0L1054.0 848.4L1055.0 849.9L1056.0 851.3L1057.0 852.7L1058.0 854.2L1059.0 855.6L1060.0 857.0L1061.0 858.4L1062.0 859.8L1063.0 861.2L1064.0 862.6L1065.0 864.0L1066.0 865.3L1067.0 866.7L1068.0 868.1L1069.0 869.4L1070.0 870.8L1071.0 872.1L1072.0 873.4L1073.0 874.8L1074.0 876.1L1075.0 877.4L1076.0 878.7L1077.0 880.0L1078.0 881.3L1079.0 882.6L1080.0 883.9L1081.0 885.1L1082.0 886.4L1083.0 887.6L1084.0 888.9L1085.0 890.1L1086.0 891.4L1087.0 892.6L1088.0 893.8L1089.0 895.0L1090.0 896.2L1091.0 897.4L1092.0 898.5L1093.0 899.7L1094.0 900.9L1095.0 902.0L1096.0 903.1L1097.0 904.3L1098.0 905.4L1099.0 906.5L1100.0 907.6L1101.0 908.6L1102.0 909.7L1103.0 910.8L1104.0 911.8L1105.0 912.8L1106.0 913.9L1107.0 914.9L1108.0 915.9L1109.0 916.8L1110.0 917.8L1111.0 918.7L1112.0 919.7L1113.0 920.6L1114.0 921.5L1115.0 922.4L1116.0 923.2L1117.0 924.1L1118.0 924.9L1119.0 925.7L1120.0 926.5L1121.0 927.3L1122.0 928.1L1123.0 928.8L1124.0 929.6L1125.0 930.3L1126.0 931.0L1127.0 931.7L1128.0 932.3L1129.0 933.0L1130.0 933.6L1131.0 934.2L1132.0 934.8L1133.0 935.4L1134.0 935.9L1135.0 936.5L1136.0 937.0L1137.0 937.5L1138.0 938.0L1139.0 938.5L1140.0 938.9L1141.0 939.4L1142.0 939.8L1143.0 940.3L1144.0 940.7L1145.0 941.1L1146.0 941.5L1147.0 941.8L1148.0 942.2L1149.0 942.6L1150.0 942.9L1151.0 943.3L1152.0 943.6L1153.0 943.9L1154.0 944.2L1155.0 944.6L1156.0 944.9L1157.0 945.2L1158.0 945.5L1159.0 945.8L1160.0 946.1L1161.0 946.4L1162.0 946.7L1163.0 947.0L1164.0 947.3L1165.0 947.6L1166.0 947.9L1167.0 948.2L1168.0 948.5L1169.0 948.8L1170.0 949.2L1171.0 949.5L1172.0 949.8L1173.0 950.1L1174.0 950.5L1175.0 950.8L1176.0 951.2L1177.0 951.5L1178.0 951.9L1179.0 952.3L1180.0 952.6L1181.0 953.0L1182.0 953.4L1183.0 953.8L1184.0 954.2L1185.0 954.7L1186.0 955.1L1187.0 955.5L1188.0 956.0L1189.0 956.5L1190.0 956.9L1191.0 957.4L1192.0 957.9L1193.0 958.4L1194.0 958.9L1195.0 959.4L1196.0 959.9L1197.0 960.4L1198.0 961.0L1199.0 961.5L1200.0 962.1L1201.0 962.6L1202.0 963.2L1203.0 963.8L1204.0 964.4L1205.0 965.0L1206.0 965.6L1207.0 966.2L1208.0 966.8L1209.0 967.4L1210.0 968.0L1211.0 968.7L1212.0 969.3L1213.0 970.0L1214.0 970.6L1215.0 971.3L1216.0 972.0L1217.0 972.6L1218.0 973.3L1219.0 974.0L1220.0 974.7L1221.0 975.4L1222.0 976.1L1223.0 976.8L1224.0 977.5L1225.0 978.2L1226.0 978.9L1227.0 979.7L1228.0 980.4L1229.0 981.1L1230.0 981.9L1231.0 982.6L1232.0 983.4L1233.0 984.1L1234.0 984.9L1235.0 985.6L1236.0 986.4L1237.0 987.2L1238.0 987.9L1239.0 988.7L1240.0 989.5L1241.0 990.3L1242.0 991.1L1243.0 991.9L1244.0 992.6L1245.0 993.4L1246.0 994.2L1247.0 995.0L1248.0 995.8L1249.0 996.7L1250.0 997.5L1251.0 998.3L1252.0 999.1L1253.0 999.9L1254.0 1000.7L1255.0 1001.5L1256.0 1002.4L1257.0 1003.2L1258.0 1004.0L1259.0 1004.8L1260.0 1005.6L1261.0 1006.5L1262.0 1007.3L1263.0 1008.1L1264.0 1008.9L1265.0 1009.8L1266.0 1010.6L1267.0 1011.4L1268.0 1012.2L1269.0 1013.1L1270.0 1013.9L1271.0 1014.7L1272.0 1015.5L1273.0 1016.3L1274.0 1017.2L1275.0 1018.0L1276.0 1018.8L1277.0 1019.6L1278.0 1020.4L1279.0 1021.2L1280.0 1022.0L1281.0 1022.8L1282.0 1023.6L1283.0 1024.4L1284.0 1025.2L1285.0 1026.0L1286.0 1026.8L1287.0 1027.6L1288.0 1028.3L1289.0 1029.1L1290.0 1029.9L1291.0 1030.7L1292.0 1031.4L1293.0 1032.2L1294.0 1032.9L1295.0 1033.7L1296.0 1034.4L1297.0 1035.2L1298.0 1035.9L1299.0 1036.6L1300.0 1037.3L1301.0 1038.1L1302.0 1038.8L1303.0 1039.5L1304.0 1040.2L1305.0 1040.9L1306.0 1041.6L1307.0 1042.3L1308.0 1042.9L1309.0 1043.6L1310.0 1044.3L1311.0 1045.0L1312.0 1045.6L1313.0 1046.3L1314.0 1046.9L1315.0 1047.6L1316.0 1048.2L1317.0 1048.8L1318.0 1049.5L1319.0 1050.1L1320.0 1050.7L1321.0 1051.3L1322.0 1051.9L1323.0 1052.5L1324.0 1053.1L1325.0 1053.7L1326.0 1054.3L1327.0 1054.9L1328.0 1055.4L1329.0 1056.0L1330.0 1056.6L1331.0 1057.1L1332.0 1057.7L1333.0 1058.2L1334.0 1058.7L1335.0 1059.3L1336.0 1059.8L1337.0 1060.3L1338.0 1060.8L1339.0 1061.3L1340.0 1061.8L1341.0 1062.3L1342.0 1062.8L1343.0 1063.3L1344.0 1063.8L1345.0 1064.3L1346.0 1064.7L1347.0 1065.2L1348.0 1065.6L1349.0 1066.1L1350.0 1066.5L1351.0 1067.0L1352.0 1067.4L1353.0 1067.9L1354.0 1068.3L1355.0 1068.7L1356.0 1069.1L1357.0 1069.5L1358.0 1069.9L1359.0 1070.3L1360.0 1070.7L1361.0 1071.1L1362.0 1071.5L1363.0 1071.9L1364.0 1072.2L1365.0 1072.6L1366.0 1073.0L1367.0 1073.3L1368.0 1073.7L1369.0 1074.0L1370.0 1074.4L1371.0 1074.7L1372.0 1075.0L1373.0 1075.4L1374.0 1075.7L1375.0 1076.0L1376.0 1076.3L1377.0 1076.6L1378.0 1076.9L1379.0 1077.2L1380.0 1077.5L1381.0 1077.8L1382.0 1078.1L1383.0 1078.4L1384.0 1078.6L1385.0 1078.9L1386.0 1079.2L1387.0 1079.4L1388.0 1079.7L1389.0 1079.9L1390.0 1080.2L1391.0 1080.4L1392.0 1080.7L1393.0 1080.9L1394.0 1081.1L1395.0 1081.4L1396.0 1081.6L1397.0 1081.8L1398.0 1082.0L1399.0 1082.2L1400.0 1082.4L1401.0 1082.6L1402.0 1082.8L1403.0 1083.0L1404.0 1083.2L1405.0 1083.4L1406.0 1083.5L1407.0 1083.7L1408.0 1083.9L1409.0 1084.1L1410.0 1084.2L1411.0 1084.4L1412.0 1084.5L1413.0 1084.7L1414.0 1084.8L1415.0 1085.0L1416.0 1085.1L1417.0 1085.3L1418.0 1085.4L1419.0 1085.6L1420.0 1085.7L1421.0 1085.8L1422.0 1085.9L1423.0 1086.1L1424.0 1086.2L1425.0 1086.3L1426.0 1086.4L1427.0 1086.5L1428.0 1086.6L1429.0 1086.7L1430.0 1086.8L1431.0 1086.9L1432.0 1087.0L1433.0 1087.1L1434.0 1087.2L1435.0 1087.3L1436.0 1087.4L1437.0 1087.4L1438.0 1087.5L1439.0 1087.6L1440.0 1087.7L1441.0 1087.7L1442.0 1087.8L1443.0 1087.9L1444.0 1088.0L1445.0 1088.0L1446.0 1088.1L1447.0 1088.1L1448.0 1088.2L1449.0 1088.2L1450.0 1088.3L1451.0 1088.3L1452.0 1088.4L1453.0 1088.4L1454.0 1088.5L1455.0 1088.5L1456.0 1088.6L1457.0 1088.6L1458.0 1088.6L1459.0 1088.7L1460.0 1088.7L1461.0 1088.7L1462.0 1088.8L1463.0 1088.8L1464.0 1088.8L1465.0 1088.9L1466.0 1088.9L1467.0 1088.9L1468.0 1088.9L1469.0 1089.0L1470.0 1089.0L1471.0 1089.0L1472.0 1089.0L1473.0 1089.0L1474.0 1089.0L1475.0 1089.1L1476.0 1089.1L1477.0 1089.1L1478.0 1089.1L1479.0 1089.1L1480.0 1089.1L1481.0 1089.2L1482.0 1089.2L1483.0 1089.2L1484.0 1089.2L1485.0 1089.2L1486.0 1089.2L1487.0 1089.2L1488.0 1089.2L1489.0 1089.3L1490.0 1089.3L1491.0 1089.3L1492.0 1089.3L1493.0 1089.3L1494.0 1089.3L1495.0 1089.3L1496.0 1089.4L1497.0 1089.4L1498.0 1089.4L1499.0 1089.4L1500.0 1089.4L1501.0 1089.4L1502.0 1089.5L1503.0 1089.5L1504.0 1089.5L1505.0 1089.5L1506.0 1089.5L1507.0 1089.6L1508.0 1089.6L1509.0 1089.6L1510.0 1089.6L1511.0 1089.6L1512.0 1089.7L1513.0 1089.7L1514.0 1089.7L1515.0 1089.7L1516.0 1089.8L1517.0 1089.8L1518.0 1089.8L1519.0 1089.8L1520.0 1089.9L1521.0 1089.9L1522.0 1089.9L1523.0 1089.9L1524.0 1090.0L1525.0 1090.0L1526.0 1090.0L1527.0 1090.1L1528.0 1090.1L1529.0 1090.1L1530.0 1090.2L1531.0 1090.2L1532.0 1090.2L1533.0 1090.3L1534.0 1090.3L1535.0 1090.3L1536.0 1090.4L1537.0 1090.4L1538.0 1090.4L1539.0 1090.5L1540.0 1090.5L1541.0 1090.6L1542.0 1090.6L1543.0 1090.6L1544.0 1090.7L1545.0 1090.7L1546.0 1090.8L1547.0 1090.8L1548.0 1090.9L1549.0 1090.9L1550.0 1091.0L1551.0 1091.0L1552.0 1091.1L1553.0 1091.1L1554.0 1091.2L1555.0 1091.3L1556.0 1091.3L1557.0 1091.4L1558.0 1091.4L1559.0 1091.5L1560.0 1091.6L1561.0 1091.6L1562.0 1091.7L1563.0 1091.8L1564.0 1091.9L1565.0 1091.9L1566.0 1092.0L1567.0 1092.1L1568.0 1092.2L1569.0 1092.3L1570.0 1092.4L1571.0 1092.5L1572.0 1092.6L1573.0 1092.7L1574.0 1092.7L1575.0 1092.8L1576.0 1092.9L1577.0 1093.1L1578.0 1093.2L1579.0 1093.3L1580.0 1093.4L1581.0 1093.5L1582.0 1093.6L1583.0 1093.7L1584.0 1093.8L1585.0 1093.9L1586.0 1094.1L1587.0 1094.2L1588.0 1094.3L1589.0 1094.4L1590.0 1094.5L1591.0 1094.7L1592.0 1094.8L1593.0 1094.9L1594.0 1095.0L1595.0 1095.2L1596.0 1095.3L1597.0 1095.4L1598.0 1095.5L1599.0 1095.7L1600.0 1095.8L1601.0 1095.9L1602.0 1096.0L1603.0 1096.2L1604.0 1096.3L1605.0 1096.4L1606.0 1096.5L1607.0 1096.6L1608.0 1096.8L1609.0 1096.9L1610.0 1097.0L1611.0 1097.1L1612.0 1097.2L1613.0 1097.3L1614.0 1097.4L1615.0 1097.5L1616.0 1097.6L1617.0 1097.7L1618.0 1097.8L1619.0 1097.9L1620.0 1098.0L1621.0 1098.1L1622.0 1098.2L1623.0 1098.3L1624.0 1098.4L1625.0 1098.4L1626.0 1098.5L1627.0 1098.6L1628.0 1098.7L1629.0 1098.7L1630.0 1098.8L1631.0 1098.9L1632.0 1098.9L1633.0 1099.0L1634.0 1099.0L1635.0 1099.1L1636.0 1099.2L1637.0 1099.2L1638.0 1099.3L1639.0 1099.3L1640.0 1099.3L1641.0 1099.4L1642.0 1099.4L1643.0 1099.5L1644.0 1099.5L1645.0 1099.5L1646.0 1099.6L1647.0 1099.6L1648.0 1099.6L1649.0 1099.7L1650.0 1099.7L1651.0 1099.7L1652.0 1099.8L1653.0 1099.8L1654.0 1099.8L1655.0 1099.9L1656.0 1099.9L1657.0 1099.9L1658.0 1099.9L1659.0 1100.0L1660.0 1100.0L1661.0 1100.0L1662.0 1100.0L1663.0 1100.1L1664.0 1100.1L1665.0 1100.1L1666.0 1100.2L1667.0 1100.2L1668.0 1100.2L1669.0 1100.3L1670.0 1100.3L1671.0 1100.3L1672.0 1100.4L1673.0 1100.4L1674.0 1100.5L1675.0 1100.5L1676.0 1100.6L1677.0 1100.6L1678.0 1100.6L1679.0 1100.7L1680.0 1100.8L1681.0 1100.8L1682.0 1100.9L1683.0 1100.9L1684.0 1101.0L1685.0 1101.0L1686.0 1101.1L1687.0 1101.2L1688.0 1101.2L1689.0 1101.3L1690.0 1101.4L1691.0 1101.5L1692.0 1101.5L1693.0 1101.6L1694.0 1101.7L1695.0 1101.8L1696.0 1101.9L1697.0 1102.0L1698.0 1102.1L1699.0 1102.1L1700.0 1102.2L1701.0 1102.3L1702.0 1102.4L1703.0 1102.5L1704.0 1102.6L1705.0 1102.7L1706.0 1102.8L1707.0 1102.9L1708.0 1103.1L1709.0 1103.2L1710.0 1103.3L1711.0 1103.4L1712.0 1103.5L1713.0 1103.6L1714.0 1103.7L1715.0 1103.8L1716.0 1103.9L1717.0 1104.1L1718.0 1104.2L1719.0 1104.3L1720.0 1104.4L1721.0 1104.5L1722.0 1104.6L1723.0 1104.8L1724.0 1104.9L1725.0 1105.0L1726.0 1105.1L1727.0 1105.2L1728.0 1105.3L1729.0 1105.5L1730.0 1105.6L1731.0 1105.7L1732.0 1105.8L1733.0 1105.9L1734.0 1106.0L1735.0 1106.2L1736.0 1106.3L1737.0 1106.4L1738.0 1106.5L1739.0 1106.6L1740.0 1106.7L1741.0 1106.8L1742.0 1106.9L1743.0 1107.0L1744.0 1107.1L1745.0 1107.2L1746.0 1107.3L1747.0 1107.4L1748.0 1107.5L1749.0 1107.6L1750.0 1107.7L1751.0 1107.8L1752.0 1107.9L1753.0 1108.0L1754.0 1108.1L1755.0 1108.2L1756.0 1108.3L1757.0 1108.4L1758.0 1108.5L1759.0 1108.5L1760.0 1108.6L1761.0 1108.7L1762.0 1108.8L1763.0 1108.9L1764.0 1108.9L1765.0 1109.0L1766.0 1109.1L1767.0 1109.1L1768.0 1109.2L1769.0 1109.3L1770.0 1109.3L1771.0 1109.4L1772.0 1109.5L1773.0 1109.5L1774.0 1109.6L1775.0 1109.6L1776.0 1109.7L1777.0 1109.7L1778.0 1109.8L1779.0 1109.8L1780.0 1109.9L1781.0 1109.9L1782.0 1110.0L1783.0 1110.0L1784.0 1110.1L1785.0 1110.1L1786.0 1110.1L1787.0 1110.2L1788.0 1110.2L1789.0 1110.2L1790.0 1110.3L1791.0 1110.3L1792.0 1110.3L1793.0 1110.4L1794.0 1110.4L1795.0 1110.4L1796.0 1110.4L1797.0 1110.5L1798.0 1110.5L1799.0 1110.5L1800.0 1110.5L1801.0 1110.5L1802.0 1110.6L1803.0 1110.6L1804.0 1110.6L1805.0 1110.6L1806.0 1110.6L1807.0 1110.6L1808.0 1110.6L1809.0 1110.7L1810.0 1110.7L1811.0 1110.7L1812.0 1110.7L1813.0 1110.7L1814.0 1110.7L1815.0 1110.7L1816.0 1110.7L1817.0 1110.7L1818.0 1110.7L1819.0 1110.7L1820.0 1110.7L1821.0 1110.7L1822.0 1110.7L1823.0 1110.7L1824.0 1110.7L1825.0 1110.7L1826.0 1110.7L1827.0 1110.7L1828.0 1110.7L1829.0 1110.7L1830.0 1110.6L1831.0 1110.6L1832.0 1110.6L1833.0 1110.6L1834.0 1110.6L1835.0 1110.6L1836.0 1110.6L1837.0 1110.6L1838.0 1110.5L1839.0 1110.5L1840.0 1110.5L1841.0 1110.5L1842.0 1110.5L1843.0 1110.4L1844.0 1110.4L1845.0 1110.4L1846.0 1110.4L1847.0 1110.3L1848.0 1110.3L1849.0 1110.3L1850.0 1110.2L1851.0 1110.2L1852.0 1110.2L1853.0 1110.1L1854.0 1110.1L1855.0 1110.1L1856.0 1110.0L1857.0 1110.0L1858.0 1109.9L1859.0 1109.9L1860.0 1109.8L1861.0 1109.8L1862.0 1109.7L1863.0 1109.7L1864.0 1109.6L1865.0 1109.6L1866.0 1109.5L1867.0 1109.5L1868.0 1109.4L1869.0 1109.4L1870.0 1109.3L1871.0 1109.2L1872.0 1109.2L1873.0 1109.1L1874.0 1109.1L1875.0 1109.0L1876.0 1108.9L1877.0 1108.8L1878.0 1108.8L1879.0 1108.7L1880.0 1108.6L1881.0 1108.5L1882.0 1108.5L1883.0 1108.4L1884.0 1108.3L1885.0 1108.2L1886.0 1108.1L1887.0 1108.0L1888.0 1108.0L1889.0 1107.9L1890.0 1107.8L1891.0 1107.7L1892.0 1107.6L1893.0 1107.5L1894.0 1107.4L1895.0 1107.3L1896.0 1107.2L1897.0 1107.1L1898.0 1107.0L1899.0 1106.9L1900.0 1106.8L1901.0 1106.7L1902.0 1106.6L1903.0 1106.5L1904.0 1106.4L1905.0 1106.3L1906.0 1106.2L1907.0 1106.1L1908.0 1106.0L1909.0 1105.9L1910.0 1105.8L1911.0 1105.7L1912.0 1105.6L1913.0 1105.5L1914.0 1105.4L1915.0 1105.2L1916.0 1105.1L1917.0 1105.0L1918.0 1104.9L1919.0 1104.8L1920.0 1104.7L1921.0 1104.6L1922.0 1104.5L1923.0 1104.4L1924.0 1104.3L1925.0 1104.2L1926.0 1104.1L1927.0 1104.0L1928.0 1103.9L1929.0 1103.8L1930.0 1103.7L1931.0 1103.6L1932.0 1103.5L1933.0 1103.5L1934.0 1103.4L1935.0 1103.3L1936.0 1103.2L1937.0 1103.1L1938.0 1103.0L1939.0 1103.0L1940.0 1102.9L1941.0 1102.8L1942.0 1102.8L1943.0 1102.7L1944.0 1102.6L1945.0 1102.6L1946.0 1102.5L1947.0 1102.5L1948.0 1102.4L1949.0 1102.4L1950.0 1102.3L1951.0 1102.3L1952.0 1102.2L1953.0 1102.2L1954.0 1102.2L1955.0 1102.1L1956.0 1102.1L1957.0 1102.1L1958.0 1102.1L1959.0 1102.1L1960.0 1102.1L1961.0 1102.0L1962.0 1102.0L1963.0 1102.0L1964.0 1102.0L1965.0 1102.1L1966.0 1102.1L1966.0 1111.0 Z" fill="#1f8a36" fill-opacity="0.6"/><path d="M278.0 1110.7L279.0 1110.7L280.0 1110.6L281.0 1110.6L282.0 1110.6L283.0 1110.6L284.0 1110.6L285.0 1110.6L286.0 1110.5L287.0 1110.5L288.0 1110.5L289.0 1110.5L290.0 1110.5L291.0 1110.4L292.0 1110.4L293.0 1110.4L294.0 1110.4L295.0 1110.3L296.0 1110.3L297.0 1110.3L298.0 1110.3L299.0 1110.2L300.0 1110.2L301.0 1110.2L302.0 1110.2L303.0 1110.1L304.0 1110.1L305.0 1110.1L306.0 1110.0L307.0 1110.0L308.0 1110.0L309.0 1110.0L310.0 1109.9L311.0 1109.9L312.0 1109.9L313.0 1109.8L314.0 1109.8L315.0 1109.7L316.0 1109.7L317.0 1109.7L318.0 1109.6L319.0 1109.6L320.0 1109.6L321.0 1109.5L322.0 1109.5L323.0 1109.4L324.0 1109.4L325.0 1109.4L326.0 1109.3L327.0 1109.3L328.0 1109.2L329.0 1109.2L330.0 1109.1L331.0 1109.1L332.0 1109.0L333.0 1109.0L334.0 1108.9L335.0 1108.9L336.0 1108.8L337.0 1108.8L338.0 1108.7L339.0 1108.7L340.0 1108.6L341.0 1108.6L342.0 1108.5L343.0 1108.4L344.0 1108.4L345.0 1108.3L346.0 1108.3L347.0 1108.2L348.0 1108.1L349.0 1108.0L350.0 1108.0L351.0 1107.9L352.0 1107.8L353.0 1107.7L354.0 1107.6L355.0 1107.5L356.0 1107.4L357.0 1107.3L358.0 1107.2L359.0 1107.1L360.0 1107.0L361.0 1106.9L362.0 1106.8L363.0 1106.6L364.0 1106.5L365.0 1106.4L366.0 1106.2L367.0 1106.1L368.0 1105.9L369.0 1105.7L370.0 1105.5L371.0 1105.4L372.0 1105.2L373.0 1105.0L374.0 1104.7L375.0 1104.5L376.0 1104.3L377.0 1104.0L378.0 1103.8L379.0 1103.5L380.0 1103.2L381.0 1102.9L382.0 1102.6L383.0 1102.3L384.0 1102.0L385.0 1101.6L386.0 1101.3L387.0 1100.9L388.0 1100.5L389.0 1100.1L390.0 1099.6L391.0 1099.2L392.0 1098.7L393.0 1098.2L394.0 1097.7L395.0 1097.2L396.0 1096.7L397.0 1096.1L398.0 1095.5L399.0 1094.9L400.0 1094.3L401.0 1093.7L402.0 1093.0L403.0 1092.3L404.0 1091.6L405.0 1090.9L406.0 1090.1L407.0 1089.3L408.0 1088.5L409.0 1087.7L410.0 1086.8L411.0 1085.9L412.0 1085.0L413.0 1084.1L414.0 1083.1L415.0 1082.1L416.0 1081.1L417.0 1080.1L418.0 1079.0L419.0 1077.9L420.0 1076.8L421.0 1075.7L422.0 1074.5L423.0 1073.3L424.0 1072.1L425.0 1070.8L426.0 1069.6L427.0 1068.3L428.0 1067.0L429.0 1065.6L430.0 1064.2L431.0 1062.8L432.0 1061.4L433.0 1060.0L434.0 1058.5L435.0 1057.0L436.0 1055.5L437.0 1053.9L438.0 1052.4L439.0 1050.8L440.0 1049.2L441.0 1047.6L442.0 1045.9L443.0 1044.2L444.0 1042.5L445.0 1040.8L446.0 1039.1L447.0 1037.4L448.0 1035.6L449.0 1033.8L450.0 1032.0L451.0 1030.2L452.0 1028.3L453.0 1026.5L454.0 1024.6L455.0 1022.7L456.0 1020.8L457.0 1018.9L458.0 1017.0L459.0 1015.1L460.0 1013.1L461.0 1011.1L462.0 1009.1L463.0 1007.1L464.0 1005.1L465.0 1003.1L466.0 1001.0L467.0 999.0L468.0 996.9L469.0 994.8L470.0 992.7L471.0 990.6L472.0 988.5L473.0 986.4L474.0 984.2L475.0 982.1L476.0 979.9L477.0 977.7L478.0 975.5L479.0 973.3L480.0 971.0L481.0 968.8L482.0 966.5L483.0 964.2L484.0 961.9L485.0 959.6L486.0 957.3L487.0 954.9L488.0 952.6L489.0 950.2L490.0 947.8L491.0 945.3L492.0 942.9L493.0 940.4L494.0 938.0L495.0 935.5L496.0 932.9L497.0 930.4L498.0 927.8L499.0 925.3L500.0 922.7L501.0 920.1L502.0 917.4L503.0 914.8L504.0 912.1L505.0 909.4L506.0 906.7L507.0 903.9L508.0 901.2L509.0 898.4L510.0 895.6L511.0 892.8L512.0 890.0L513.0 887.1L514.0 884.3L515.0 881.4L516.0 878.5L517.0 875.6L518.0 872.7L519.0 869.7L520.0 866.8L521.0 863.8L522.0 860.9L523.0 857.9L524.0 854.9L525.0 851.9L526.0 848.9L527.0 845.9L528.0 842.9L529.0 839.9L530.0 836.9L531.0 833.9L532.0 830.9L533.0 827.9L534.0 824.9L535.0 821.9L536.0 818.9L537.0 815.9L538.0 812.9L539.0 809.9L540.0 806.9L541.0 804.0L542.0 801.0L543.0 798.1L544.0 795.1L545.0 792.2L546.0 789.3L547.0 786.4L548.0 783.5L549.0 780.7L550.0 777.8L551.0 775.0L552.0 772.2L553.0 769.4L554.0 766.6L555.0 763.9L556.0 761.1L557.0 758.4L558.0 755.7L559.0 753.0L560.0 750.3L561.0 747.7L562.0 745.1L563.0 742.4L564.0 739.8L565.0 737.3L566.0 734.7L567.0 732.1L568.0 729.6L569.0 727.1L570.0 724.6L571.0 722.1L572.0 719.6L573.0 717.1L574.0 714.7L575.0 712.2L576.0 709.8L577.0 707.4L578.0 704.9L579.0 702.5L580.0 700.1L581.0 697.7L582.0 695.4L583.0 693.0L584.0 690.6L585.0 688.2L586.0 685.9L587.0 683.5L588.0 681.2L589.0 678.8L590.0 676.5L591.0 674.1L592.0 671.8L593.0 669.4L594.0 667.1L595.0 664.8L596.0 662.4L597.0 660.1L598.0 657.7L599.0 655.4L600.0 653.1L601.0 650.8L602.0 648.4L603.0 646.1L604.0 643.8L605.0 641.4L606.0 639.1L607.0 636.8L608.0 634.5L609.0 632.2L610.0 629.9L611.0 627.5L612.0 625.2L613.0 622.9L614.0 620.6L615.0 618.3L616.0 616.1L617.0 613.8L618.0 611.5L619.0 609.2L620.0 607.0L621.0 604.7L622.0 602.5L623.0 600.2L624.0 598.0L625.0 595.8L626.0 593.5L627.0 591.3L628.0 589.1L629.0 586.9L630.0 584.8L631.0 582.6L632.0 580.4L633.0 578.3L634.0 576.1L635.0 574.0L636.0 571.9L637.0 569.7L638.0 567.6L639.0 565.5L640.0 563.5L641.0 561.4L642.0 559.3L643.0 557.2L644.0 555.2L645.0 553.2L646.0 551.1L647.0 549.1L648.0 547.1L649.0 545.1L650.0 543.1L651.0 541.1L652.0 539.1L653.0 537.1L654.0 535.1L655.0 533.1L656.0 531.2L657.0 529.2L658.0 527.3L659.0 525.3L660.0 523.4L661.0 521.5L662.0 519.5L663.0 517.6L664.0 515.7L665.0 513.8L666.0 511.9L667.0 510.0L668.0 508.1L669.0 506.3L670.0 504.4L671.0 502.5L672.0 500.7L673.0 498.8L674.0 497.0L675.0 495.1L676.0 493.3L677.0 491.5L678.0 489.7L679.0 487.9L680.0 486.1L681.0 484.4L682.0 482.6L683.0 480.9L684.0 479.1L685.0 477.4L686.0 475.7L687.0 474.0L688.0 472.4L689.0 470.7L690.0 469.1L691.0 467.5L692.0 465.9L693.0 464.3L694.0 462.8L695.0 461.3L696.0 459.8L697.0 458.3L698.0 456.9L699.0 455.4L700.0 454.0L701.0 452.7L702.0 451.3L703.0 450.0L704.0 448.7L705.0 447.5L706.0 446.2L707.0 445.0L708.0 443.9L709.0 442.8L710.0 441.7L711.0 440.6L712.0 439.6L713.0 438.6L714.0 437.6L715.0 436.7L716.0 435.8L717.0 434.9L718.0 434.1L719.0 433.3L720.0 432.6L721.0 431.9L722.0 431.2L723.0 430.6L724.0 430.0L725.0 429.4L726.0 428.9L727.0 428.4L728.0 427.9L729.0 427.5L730.0 427.1L731.0 426.7L732.0 426.4L733.0 426.1L734.0 425.9L735.0 425.7L736.0 425.5L737.0 425.4L738.0 425.3L739.0 425.2L740.0 425.1L741.0 425.1L742.0 425.1L743.0 425.2L744.0 425.3L745.0 425.4L746.0 425.5L747.0 425.7L748.0 425.9L749.0 426.1L750.0 426.4L751.0 426.7L752.0 427.0L753.0 427.3L754.0 427.7L755.0 428.1L756.0 428.5L757.0 428.9L758.0 429.4L759.0 429.9L760.0 430.4L761.0 431.0L762.0 431.5L763.0 432.1L764.0 432.7L765.0 433.4L766.0 434.0L767.0 434.7L768.0 435.4L769.0 436.2L770.0 436.9L771.0 437.7L772.0 438.5L773.0 439.3L774.0 440.2L775.0 441.0L776.0 441.9L777.0 442.8L778.0 443.8L779.0 444.8L780.0 445.7L781.0 446.8L782.0 447.8L783.0 448.9L784.0 450.0L785.0 451.1L786.0 452.2L787.0 453.4L788.0 454.6L789.0 455.8L790.0 457.0L791.0 458.3L792.0 459.6L793.0 460.9L794.0 462.3L795.0 463.7L796.0 465.1L797.0 466.5L798.0 468.0L799.0 469.4L800.0 471.0L801.0 472.5L802.0 474.1L803.0 475.7L804.0 477.3L805.0 478.9L806.0 480.6L807.0 482.3L808.0 484.1L809.0 485.8L810.0 487.6L811.0 489.4L812.0 491.2L813.0 493.1L814.0 495.0L815.0 496.9L816.0 498.8L817.0 500.7L818.0 502.7L819.0 504.7L820.0 506.7L821.0 508.7L822.0 510.7L823.0 512.8L824.0 514.9L825.0 516.9L826.0 519.0L827.0 521.2L828.0 523.3L829.0 525.4L830.0 527.6L831.0 529.7L832.0 531.9L833.0 534.0L834.0 536.2L835.0 538.4L836.0 540.6L837.0 542.8L838.0 545.0L839.0 547.2L840.0 549.4L841.0 551.6L842.0 553.8L843.0 556.0L844.0 558.2L845.0 560.4L846.0 562.6L847.0 564.8L848.0 566.9L849.0 569.1L850.0 571.3L851.0 573.5L852.0 575.6L853.0 577.8L854.0 579.9L855.0 582.1L856.0 584.2L857.0 586.4L858.0 588.5L859.0 590.6L860.0 592.7L861.0 594.8L862.0 596.9L863.0 599.0L864.0 601.1L865.0 603.1L866.0 605.2L867.0 607.2L868.0 609.3L869.0 611.3L870.0 613.3L871.0 615.3L872.0 617.3L873.0 619.3L874.0 621.3L875.0 623.3L876.0 625.2L877.0 627.2L878.0 629.1L879.0 631.1L880.0 633.0L881.0 634.9L882.0 636.8L883.0 638.7L884.0 640.6L885.0 642.5L886.0 644.3L887.0 646.2L888.0 648.0L889.0 649.8L890.0 651.6L891.0 653.4L892.0 655.2L893.0 657.0L894.0 658.7L895.0 660.5L896.0 662.2L897.0 663.9L898.0 665.6L899.0 667.2L900.0 668.9L901.0 670.5L902.0 672.2L903.0 673.8L904.0 675.3L905.0 676.9L906.0 678.5L907.0 680.0L908.0 681.5L909.0 683.0L910.0 684.4L911.0 685.9L912.0 687.3L913.0 688.7L914.0 690.1L915.0 691.5L916.0 692.8L917.0 694.1L918.0 695.4L919.0 696.7L920.0 698.0L921.0 699.2L922.0 700.4L923.0 701.6L924.0 702.8L925.0 704.0L926.0 705.1L927.0 706.3L928.0 707.4L929.0 708.5L930.0 709.5L931.0 710.6L932.0 711.6L933.0 712.6L934.0 713.7L935.0 714.6L936.0 715.6L937.0 716.6L938.0 717.6L939.0 718.5L940.0 719.4L941.0 720.4L942.0 721.3L943.0 722.2L944.0 723.1L945.0 724.0L946.0 724.8L947.0 725.7L948.0 726.6L949.0 727.5L950.0 728.3L951.0 729.2L952.0 730.0L953.0 730.9L954.0 731.8L955.0 732.6L956.0 733.5L957.0 734.3L958.0 735.2L959.0 736.0L960.0 736.9L961.0 737.7L962.0 738.6L963.0 739.5L964.0 740.3L965.0 741.2L966.0 742.1L967.0 743.0L968.0 743.8L969.0 744.7L970.0 745.6L971.0 746.5L972.0 747.4L973.0 748.3L974.0 749.2L975.0 750.2L976.0 751.1L977.0 752.0L978.0 753.0L979.0 753.9L980.0 754.9L981.0 755.8L982.0 756.8L983.0 757.8L984.0 758.8L985.0 759.8L986.0 760.8L987.0 761.8L988.0 762.8L989.0 763.8L990.0 764.9L991.0 765.9L992.0 766.9L993.0 768.0L994.0 769.1L995.0 770.1L996.0 771.2L997.0 772.3L998.0 773.4L999.0 774.5L1000.0 775.7L1001.0 776.8L1002.0 777.9L1003.0 779.1L1004.0 780.3L1005.0 781.4L1006.0 782.6L1007.0 783.8L1008.0 785.0L1009.0 786.2L1010.0 787.4L1011.0 788.7L1012.0 789.9L1013.0 791.2L1014.0 792.4L1015.0 793.7L1016.0 795.0L1017.0 796.3L1018.0 797.6L1019.0 798.9L1020.0 800.2L1021.0 801.5L1022.0 802.9L1023.0 804.2L1024.0 805.6L1025.0 806.9L1026.0 808.3L1027.0 809.7L1028.0 811.1L1029.0 812.5L1030.0 813.9L1031.0 815.3L1032.0 816.7L1033.0 818.1L1034.0 819.5L1035.0 821.0L1036.0 822.4L1037.0 823.8L1038.0 825.3L1039.0 826.7L1040.0 828.2L1041.0 829.6L1042.0 831.1L1043.0 832.5L1044.0 834.0L1045.0 835.4L1046.0 836.9L1047.0 838.3L1048.0 839.8L1049.0 841.2L1050.0 842.7L1051.0 844.1L1052.0 845.6L1053.0 847.0L1054.0 848.4L1055.0 849.9L1056.0 851.3L1057.0 852.7L1058.0 854.2L1059.0 855.6L1060.0 857.0L1061.0 858.4L1062.0 859.8L1063.0 861.2L1064.0 862.6L1065.0 864.0L1066.0 865.3L1067.0 866.7L1068.0 868.1L1069.0 869.4L1070.0 870.8L1071.0 872.1L1072.0 873.4L1073.0 874.8L1074.0 876.1L1075.0 877.4L1076.0 878.7L1077.0 880.0L1078.0 881.3L1079.0 882.6L1080.0 883.9L1081.0 885.1L1082.0 886.4L1083.0 887.6L1084.0 888.9L1085.0 890.1L1086.0 891.4L1087.0 892.6L1088.0 893.8L1089.0 895.0L1090.0 896.2L1091.0 897.4L1092.0 898.5L1093.0 899.7L1094.0 900.9L1095.0 902.0L1096.0 903.1L1097.0 904.3L1098.0 905.4L1099.0 906.5L1100.0 907.6L1101.0 908.6L1102.0 909.7L1103.0 910.8L1104.0 911.8L1105.0 912.8L1106.0 913.9L1107.0 914.9L1108.0 915.9L1109.0 916.8L1110.0 917.8L1111.0 918.7L1112.0 919.7L1113.0 920.6L1114.0 921.5L1115.0 922.4L1116.0 923.2L1117.0 924.1L1118.0 924.9L1119.0 925.7L1120.0 926.5L1121.0 927.3L1122.0 928.1L1123.0 928.8L1124.0 929.6L1125.0 930.3L1126.0 931.0L1127.0 931.7L1128.0 932.3L1129.0 933.0L1130.0 933.6L1131.0 934.2L1132.0 934.8L1133.0 935.4L1134.0 935.9L1135.0 936.5L1136.0 937.0L1137.0 937.5L1138.0 938.0L1139.0 938.5L1140.0 938.9L1141.0 939.4L1142.0 939.8L1143.0 940.3L1144.0 940.7L1145.0 941.1L1146.0 941.5L1147.0 941.8L1148.0 942.2L1149.0 942.6L1150.0 942.9L1151.0 943.3L1152.0 943.6L1153.0 943.9L1154.0 944.2L1155.0 944.6L1156.0 944.9L1157.0 945.2L1158.0 945.5L1159.0 945.8L1160.0 946.1L1161.0 946.4L1162.0 946.7L1163.0 947.0L1164.0 947.3L1165.0 947.6L1166.0 947.9L1167.0 948.2L1168.0 948.5L1169.0 948.8L1170.0 949.2L1171.0 949.5L1172.0 949.8L1173.0 950.1L1174.0 950.5L1175.0 950.8L1176.0 951.2L1177.0 951.5L1178.0 951.9L1179.0 952.3L1180.0 952.6L1181.0 953.0L1182.0 953.4L1183.0 953.8L1184.0 954.2L1185.0 954.7L1186.0 955.1L1187.0 955.5L1188.0 956.0L1189.0 956.5L1190.0 956.9L1191.0 957.4L1192.0 957.9L1193.0 958.4L1194.0 958.9L1195.0 959.4L1196.0 959.9L1197.0 960.4L1198.0 961.0L1199.0 961.5L1200.0 962.1L1201.0 962.6L1202.0 963.2L1203.0 963.8L1204.0 964.4L1205.0 965.0L1206.0 965.6L1207.0 966.2L1208.0 966.8L1209.0 967.4L1210.0 968.0L1211.0 968.7L1212.0 969.3L1213.0 970.0L1214.0 970.6L1215.0 971.3L1216.0 972.0L1217.0 972.6L1218.0 973.3L1219.0 974.0L1220.0 974.7L1221.0 975.4L1222.0 976.1L1223.0 976.8L1224.0 977.5L1225.0 978.2L1226.0 978.9L1227.0 979.7L1228.0 980.4L1229.0 981.1L1230.0 981.9L1231.0 982.6L1232.0 983.4L1233.0 984.1L1234.0 984.9L1235.0 985.6L1236.0 986.4L1237.0 987.2L1238.0 987.9L1239.0 988.7L1240.0 989.5L1241.0 990.3L1242.0 991.1L1243.0 991.9L1244.0 992.6L1245.0 993.4L1246.0 994.2L1247.0 995.0L1248.0 995.8L1249.0 996.7L1250.0 997.5L1251.0 998.3L1252.0 999.1L1253.0 999.9L1254.0 1000.7L1255.0 1001.5L1256.0 1002.4L1257.0 1003.2L1258.0 1004.0L1259.0 1004.8L1260.0 1005.6L1261.0 1006.5L1262.0 1007.3L1263.0 1008.1L1264.0 1008.9L1265.0 1009.8L1266.0 1010.6L1267.0 1011.4L1268.0 1012.2L1269.0 1013.1L1270.0 1013.9L1271.0 1014.7L1272.0 1015.5L1273.0 1016.3L1274.0 1017.2L1275.0 1018.0L1276.0 1018.8L1277.0 1019.6L1278.0 1020.4L1279.0 1021.2L1280.0 1022.0L1281.0 1022.8L1282.0 1023.6L1283.0 1024.4L1284.0 1025.2L1285.0 1026.0L1286.0 1026.8L1287.0 1027.6L1288.0 1028.3L1289.0 1029.1L1290.0 1029.9L1291.0 1030.7L1292.0 1031.4L1293.0 1032.2L1294.0 1032.9L1295.0 1033.7L1296.0 1034.4L1297.0 1035.2L1298.0 1035.9L1299.0 1036.6L1300.0 1037.3L1301.0 1038.1L1302.0 1038.8L1303.0 1039.5L1304.0 1040.2L1305.0 1040.9L1306.0 1041.6L1307.0 1042.3L1308.0 1042.9L1309.0 1043.6L1310.0 1044.3L1311.0 1045.0L1312.0 1045.6L1313.0 1046.3L1314.0 1046.9L1315.0 1047.6L1316.0 1048.2L1317.0 1048.8L1318.0 1049.5L1319.0 1050.1L1320.0 1050.7L1321.0 1051.3L1322.0 1051.9L1323.0 1052.5L1324.0 1053.1L1325.0 1053.7L1326.0 1054.3L1327.0 1054.9L1328.0 1055.4L1329.0 1056.0L1330.0 1056.6L1331.0 1057.1L1332.0 1057.7L1333.0 1058.2L1334.0 1058.7L1335.0 1059.3L1336.0 1059.8L1337.0 1060.3L1338.0 1060.8L1339.0 1061.3L1340.0 1061.8L1341.0 1062.3L1342.0 1062.8L1343.0 1063.3L1344.0 1063.8L1345.0 1064.3L1346.0 1064.7L1347.0 1065.2L1348.0 1065.6L1349.0 1066.1L1350.0 1066.5L1351.0 1067.0L1352.0 1067.4L1353.0 1067.9L1354.0 1068.3L1355.0 1068.7L1356.0 1069.1L1357.0 1069.5L1358.0 1069.9L1359.0 1070.3L1360.0 1070.7L1361.0 1071.1L1362.0 1071.5L1363.0 1071.9L1364.0 1072.2L1365.0 1072.6L1366.0 1073.0L1367.0 1073.3L1368.0 1073.7L1369.0 1074.0L1370.0 1074.4L1371.0 1074.7L1372.0 1075.0L1373.0 1075.4L1374.0 1075.7L1375.0 1076.0L1376.0 1076.3L1377.0 1076.6L1378.0 1076.9L1379.0 1077.2L1380.0 1077.5L1381.0 1077.8L1382.0 1078.1L1383.0 1078.4L1384.0 1078.6L1385.0 1078.9L1386.0 1079.2L1387.0 1079.4L1388.0 1079.7L1389.0 1079.9L1390.0 1080.2L1391.0 1080.4L1392.0 1080.7L1393.0 1080.9L1394.0 1081.1L1395.0 1081.4L1396.0 1081.6L1397.0 1081.8L1398.0 1082.0L1399.0 1082.2L1400.0 1082.4L1401.0 1082.6L1402.0 1082.8L1403.0 1083.0L1404.0 1083.2L1405.0 1083.4L1406.0 1083.5L1407.0 1083.7L1408.0 1083.9L1409.0 1084.1L1410.0 1084.2L1411.0 1084.4L1412.0 1084.5L1413.0 1084.7L1414.0 1084.8L1415.0 1085.0L1416.0 1085.1L1417.0 1085.3L1418.0 1085.4L1419.0 1085.6L1420.0 1085.7L1421.0 1085.8L1422.0 1085.9L1423.0 1086.1L1424.0 1086.2L1425.0 1086.3L1426.0 1086.4L1427.0 1086.5L1428.0 1086.6L1429.0 1086.7L1430.0 1086.8L1431.0 1086.9L1432.0 1087.0L1433.0 1087.1L1434.0 1087.2L1435.0 1087.3L1436.0 1087.4L1437.0 1087.4L1438.0 1087.5L1439.0 1087.6L1440.0 1087.7L1441.0 1087.7L1442.0 1087.8L1443.0 1087.9L1444.0 1088.0L1445.0 1088.0L1446.0 1088.1L1447.0 1088.1L1448.0 1088.2L1449.0 1088.2L1450.0 1088.3L1451.0 1088.3L1452.0 1088.4L1453.0 1088.4L1454.0 1088.5L1455.0 1088.5L1456.0 1088.6L1457.0 1088.6L1458.0 1088.6L1459.0 1088.7L1460.0 1088.7L1461.0 1088.7L1462.0 1088.8L1463.0 1088.8L1464.0 1088.8L1465.0 1088.9L1466.0 1088.9L1467.0 1088.9L1468.0 1088.9L1469.0 1089.0L1470.0 1089.0L1471.0 1089.0L1472.0 1089.0L1473.0 1089.0L1474.0 1089.0L1475.0 1089.1L1476.0 1089.1L1477.0 1089.1L1478.0 1089.1L1479.0 1089.1L1480.0 1089.1L1481.0 1089.2L1482.0 1089.2L1483.0 1089.2L1484.0 1089.2L1485.0 1089.2L1486.0 1089.2L1487.0 1089.2L1488.0 1089.2L1489.0 1089.3L1490.0 1089.3L1491.0 1089.3L1492.0 1089.3L1493.0 1089.3L1494.0 1089.3L1495.0 1089.3L1496.0 1089.4L1497.0 1089.4L1498.0 1089.4L1499.0 1089.4L1500.0 1089.4L1501.0 1089.4L1502.0 1089.5L1503.0 1089.5L1504.0 1089.5L1505.0 1089.5L1506.0 1089.5L1507.0 1089.6L1508.0 1089.6L1509.0 1089.6L1510.0 1089.6L1511.0 1089.6L1512.0 1089.7L1513.0 1089.7L1514.0 1089.7L1515.0 1089.7L1516.0 1089.8L1517.0 1089.8L1518.0 1089.8L1519.0 1089.8L1520.0 1089.9L1521.0 1089.9L1522.0 1089.9L1523.0 1089.9L1524.0 1090.0L1525.0 1090.0L1526.0 1090.0L1527.0 1090.1L1528.0 1090.1L1529.0 1090.1L1530.0 1090.2L1531.0 1090.2L1532.0 1090.2L1533.0 1090.3L1534.0 1090.3L1535.0 1090.3L1536.0 1090.4L1537.0 1090.4L1538.0 1090.4L1539.0 1090.5L1540.0 1090.5L1541.0 1090.6L1542.0 1090.6L1543.0 1090.6L1544.0 1090.7L1545.0 1090.7L1546.0 1090.8L1547.0 1090.8L1548.0 1090.9L1549.0 1090.9L1550.0 1091.0L1551.0 1091.0L1552.0 1091.1L1553.0 1091.1L1554.0 1091.2L1555.0 1091.3L1556.0 1091.3L1557.0 1091.4L1558.0 1091.4L1559.0 1091.5L1560.0 1091.6L1561.0 1091.6L1562.0 1091.7L1563.0 1091.8L1564.0 1091.9L1565.0 1091.9L1566.0 1092.0L1567.0 1092.1L1568.0 1092.2L1569.0 1092.3L1570.0 1092.4L1571.0 1092.5L1572.0 1092.6L1573.0 1092.7L1574.0 1092.7L1575.0 1092.8L1576.0 1092.9L1577.0 1093.1L1578.0 1093.2L1579.0 1093.3L1580.0 1093.4L1581.0 1093.5L1582.0 1093.6L1583.0 1093.7L1584.0 1093.8L1585.0 1093.9L1586.0 1094.1L1587.0 1094.2L1588.0 1094.3L1589.0 1094.4L1590.0 1094.5L1591.0 1094.7L1592.0 1094.8L1593.0 1094.9L1594.0 1095.0L1595.0 1095.2L1596.0 1095.3L1597.0 1095.4L1598.0 1095.5L1599.0 1095.7L1600.0 1095.8L1601.0 1095.9L1602.0 1096.0L1603.0 1096.2L1604.0 1096.3L1605.0 1096.4L1606.0 1096.5L1607.0 1096.6L1608.0 1096.8L1609.0 1096.9L1610.0 1097.0L1611.0 1097.1L1612.0 1097.2L1613.0 1097.3L1614.0 1097.4L1615.0 1097.5L1616.0 1097.6L1617.0 1097.7L1618.0 1097.8L1619.0 1097.9L1620.0 1098.0L1621.0 1098.1L1622.0 1098.2L1623.0 1098.3L1624.0 1098.4L1625.0 1098.4L1626.0 1098.5L1627.0 1098.6L1628.0 1098.7L1629.0 1098.7L1630.0 1098.8L1631.0 1098.9L1632.0 1098.9L1633.0 1099.0L1634.0 1099.0L1635.0 1099.1L1636.0 1099.2L1637.0 1099.2L1638.0 1099.3L1639.0 1099.3L1640.0 1099.3L1641.0 1099.4L1642.0 1099.4L1643.0 1099.5L1644.0 1099.5L1645.0 1099.5L1646.0 1099.6L1647.0 1099.6L1648.0 1099.6L1649.0 1099.7L1650.0 1099.7L1651.0 1099.7L1652.0 1099.8L1653.0 1099.8L1654.0 1099.8L1655.0 1099.9L1656.0 1099.9L1657.0 1099.9L1658.0 1099.9L1659.0 1100.0L1660.0 1100.0L1661.0 1100.0L1662.0 1100.0L1663.0 1100.1L1664.0 1100.1L1665.0 1100.1L1666.0 1100.2L1667.0 1100.2L1668.0 1100.2L1669.0 1100.3L1670.0 1100.3L1671.0 1100.3L1672.0 1100.4L1673.0 1100.4L1674.0 1100.5L1675.0 1100.5L1676.0 1100.6L1677.0 1100.6L1678.0 1100.6L1679.0 1100.7L1680.0 1100.8L1681.0 1100.8L1682.0 1100.9L1683.0 1100.9L1684.0 1101.0L1685.0 1101.0L1686.0 1101.1L1687.0 1101.2L1688.0 1101.2L1689.0 1101.3L1690.0 1101.4L1691.0 1101.5L1692.0 1101.5L1693.0 1101.6L1694.0 1101.7L1695.0 1101.8L1696.0 1101.9L1697.0 1102.0L1698.0 1102.1L1699.0 1102.1L1700.0 1102.2L1701.0 1102.3L1702.0 1102.4L1703.0 1102.5L1704.0 1102.6L1705.0 1102.7L1706.0 1102.8L1707.0 1102.9L1708.0 1103.1L1709.0 1103.2L1710.0 1103.3L1711.0 1103.4L1712.0 1103.5L1713.0 1103.6L1714.0 1103.7L1715.0 1103.8L1716.0 1103.9L1717.0 1104.1L1718.0 1104.2L1719.0 1104.3L1720.0 1104.4L1721.0 1104.5L1722.0 1104.6L1723.0 1104.8L1724.0 1104.9L1725.0 1105.0L1726.0 1105.1L1727.0 1105.2L1728.0 1105.3L1729.0 1105.5L1730.0 1105.6L1731.0 1105.7L1732.0 1105.8L1733.0 1105.9L1734.0 1106.0L1735.0 1106.2L1736.0 1106.3L1737.0 1106.4L1738.0 1106.5L1739.0 1106.6L1740.0 1106.7L1741.0 1106.8L1742.0 1106.9L1743.0 1107.0L1744.0 1107.1L1745.0 1107.2L1746.0 1107.3L1747.0 1107.4L1748.0 1107.5L1749.0 1107.6L1750.0 1107.7L1751.0 1107.8L1752.0 1107.9L1753.0 1108.0L1754.0 1108.1L1755.0 1108.2L1756.0 1108.3L1757.0 1108.4L1758.0 1108.5L1759.0 1108.5L1760.0 1108.6L1761.0 1108.7L1762.0 1108.8L1763.0 1108.9L1764.0 1108.9L1765.0 1109.0L1766.0 1109.1L1767.0 1109.1L1768.0 1109.2L1769.0 1109.3L1770.0 1109.3L1771.0 1109.4L1772.0 1109.5L1773.0 1109.5L1774.0 1109.6L1775.0 1109.6L1776.0 1109.7L1777.0 1109.7L1778.0 1109.8L1779.0 1109.8L1780.0 1109.9L1781.0 1109.9L1782.0 1110.0L1783.0 1110.0L1784.0 1110.1L1785.0 1110.1L1786.0 1110.1L1787.0 1110.2L1788.0 1110.2L1789.0 1110.2L1790.0 1110.3L1791.0 1110.3L1792.0 1110.3L1793.0 1110.4L1794.0 1110.4L1795.0 1110.4L1796.0 1110.4L1797.0 1110.5L1798.0 1110.5L1799.0 1110.5L1800.0 1110.5L1801.0 1110.5L1802.0 1110.6L1803.0 1110.6L1804.0 1110.6L1805.0 1110.6L1806.0 1110.6L1807.0 1110.6L1808.0 1110.6L1809.0 1110.7L1810.0 1110.7L1811.0 1110.7L1812.0 1110.7L1813.0 1110.7L1814.0 1110.7L1815.0 1110.7L1816.0 1110.7L1817.0 1110.7L1821.0 1110.7L1822.0 1110.7L1823.0 1110.7L1824.0 1110.7L1825.0 1110.7L1826.0 1110.7L1827.0 1110.7L1828.0 1110.7L1829.0 1110.7L1830.0 1110.6L1831.0 1110.6L1832.0 1110.6L1833.0 1110.6L1834.0 1110.6L1835.0 1110.6L1836.0 1110.6L1837.0 1110.6L1838.0 1110.5L1839.0 1110.5L1840.0 1110.5L1841.0 1110.5L1842.0 1110.5L1843.0 1110.4L1844.0 1110.4L1845.0 1110.4L1846.0 1110.4L1847.0 1110.3L1848.0 1110.3L1849.0 1110.3L1850.0 1110.2L1851.0 1110.2L1852.0 1110.2L1853.0 1110.1L1854.0 1110.1L1855.0 1110.1L1856.0 1110.0L1857.0 1110.0L1858.0 1109.9L1859.0 1109.9L1860.0 1109.8L1861.0 1109.8L1862.0 1109.7L1863.0 1109.7L1864.0 1109.6L1865.0 1109.6L1866.0 1109.5L1867.0 1109.5L1868.0 1109.4L1869.0 1109.4L1870.0 1109.3L1871.0 1109.2L1872.0 1109.2L1873.0 1109.1L1874.0 1109.1L1875.0 1109.0L1876.0 1108.9L1877.0 1108.8L1878.0 1108.8L1879.0 1108.7L1880.0 1108.6L1881.0 1108.5L1882.0 1108.5L1883.0 1108.4L1884.0 1108.3L1885.0 1108.2L1886.0 1108.1L1887.0 1108.0L1888.0 1108.0L1889.0 1107.9L1890.0 1107.8L1891.0 1107.7L1892.0 1107.6L1893.0 1107.5L1894.0 1107.4L1895.0 1107.3L1896.0 1107.2L1897.0 1107.1L1898.0 1107.0L1899.0 1106.9L1900.0 1106.8L1901.0 1106.7L1902.0 1106.6L1903.0 1106.5L1904.0 1106.4L1905.0 1106.3L1906.0 1106.2L1907.0 1106.1L1908.0 1106.0L1909.0 1105.9L1910.0 1105.8L1911.0 1105.7L1912.0 1105.6L1913.0 1105.5L1914.0 1105.4L1915.0 1105.2L1916.0 1105.1L1917.0 1105.0L1918.0 1104.9L1919.0 1104.8L1920.0 1104.7L1921.0 1104.6L1922.0 1104.5L1923.0 1104.4L1924.0 1104.3L1925.0 1104.2L1926.0 1104.1L1927.0 1104.0L1928.0 1103.9L1929.0 1103.8L1930.0 1103.7L1931.0 1103.6L1932.0 1103.5L1933.0 1103.5L1934.0 1103.4L1935.0 1103.3L1936.0 1103.2L1937.0 1103.1L1938.0 1103.0L1939.0 1103.0L1940.0 1102.9L1941.0 1102.8L1942.0 1102.8L1943.0 1102.7L1944.0 1102.6L1945.0 1102.6L1946.0 1102.5L1947.0 1102.5L1948.0 1102.4L1949.0 1102.4L1950.0 1102.3L1951.0 1102.3L1952.0 1102.2L1953.0 1102.2L1954.0 1102.2L1955.0 1102.1L1956.0 1102.1L1957.0 1102.1L1958.0 1102.1L1959.0 1102.1L1960.0 1102.1L1961.0 1102.0L1962.0 1102.0L1963.0 1102.0L1964.0 1102.0L1965.0 1102.1L1966.0 1102.1" fill="none" stroke="#1f8a36" stroke-opacity="0.22" stroke-width="1.2"/>
<line x1="698.8" y1="219.6" x2="698.8" y2="1165.6" stroke="#8d9cb6" stroke-width="3.5" stroke-dasharray="14.23 14.23" stroke-dashoffset="-9.4"/>
<line x1="1438.1" y1="370.6" x2="808" y2="462.7" stroke="#ed647a" stroke-width="3.5"/>
<path d="M804.3 463.2 L818.4 452.0 L821.0 469.85 Z" fill="#ed647a" stroke="#ed647a" stroke-width="3.5" stroke-linejoin="round"/>
<g font-size="33.3" font-style="italic" text-anchor="middle" fill="#ed647a">
<text x="1437.5" y="255.7">Detectable within</text>
<text x="1437.5" y="291.7">20-30 requests</text>
</g>
<g font-size="33.3" font-style="italic" text-anchor="middle" fill="#238b35">
<text x="1437.5" y="546.9">Statistically</text>
<text x="1437.5" y="582.7">indistinguishable</text>
<text x="1437.5" y="618.7">from human</text>
</g>
<g font-size="39.6" fill="#1e293b"><text x="276.2" y="1215.8" text-anchor="middle">0s</text><text x="698.7" y="1215.8" text-anchor="middle">2s</text><text x="1121.2" y="1215.8" text-anchor="middle">4s</text><text x="1543.6" y="1215.8" text-anchor="middle">6s</text><text x="1966.0" y="1215.8" text-anchor="middle">8s</text><text x="157.5" y="507.8" text-anchor="end">0.4</text><text x="157.5" y="816.5" text-anchor="end">0.2</text><text x="157.5" y="1125.2" text-anchor="end">0.0</text></g>
<text x="1120.3" y="1266.9" text-anchor="middle" font-size="43.9" fill="#1e293b">Inter-Action Delay</text>
<text transform="translate(81,687.1) rotate(-90)" text-anchor="middle" font-size="43.9" fill="#1e293b">Density</text>
<rect x="651.1" y="1344" width="66" height="65.9" fill="#ee475e" fill-opacity="0.5"/>
<rect x="1070" y="1344" width="66" height="65.9" fill="#1f8a36" fill-opacity="0.6"/>
<g font-size="38.65" fill="#64748b">
<text x="743" y="1390">Uniform (Bot-like)</text>
<text x="1162.4" y="1390" font-size="38.55">Log-Normal (Human-like)</text>
</g>
<text x="50.4" y="1489.6" font-size="34.11" fill="#94a3b8">Box-Muller sampler. Applied to LinkedIn automation; quarantine events dropped 50%+.</text>
</svg>
</body></html>
